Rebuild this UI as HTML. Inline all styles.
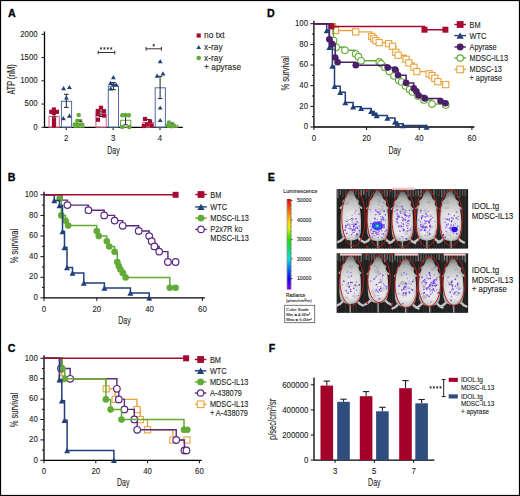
<!DOCTYPE html>
<html><head><meta charset="utf-8"><style>
html,body{margin:0;padding:0;background:#fff;}
body{width:520px;height:496px;overflow:hidden;}
svg{display:block;font-family:"Liberation Sans", sans-serif;}
</style></head><body>
<svg width="520" height="496" viewBox="0 0 520 496">
<defs>
<linearGradient id="cbar" x1="0" y1="0" x2="0" y2="1">
<stop offset="0" stop-color="#e00000"/><stop offset="0.12" stop-color="#ff6000"/><stop offset="0.25" stop-color="#ffd000"/>
<stop offset="0.32" stop-color="#e0f000"/><stop offset="0.45" stop-color="#20e000"/><stop offset="0.58" stop-color="#00e080"/>
<stop offset="0.66" stop-color="#00e0e0"/><stop offset="0.78" stop-color="#0060ff"/><stop offset="0.88" stop-color="#1000ff"/>
<stop offset="1" stop-color="#8000ff"/>
</linearGradient>
<linearGradient id="mvert" x1="0" y1="0" x2="0" y2="1">
<stop offset="0" stop-color="#909090"/><stop offset="0.2" stop-color="#c4c4c4"/><stop offset="0.45" stop-color="#e6e6e6"/><stop offset="0.85" stop-color="#f2f2f2"/><stop offset="1" stop-color="#cccccc"/>
</linearGradient>
<radialGradient id="medge" cx="0.5" cy="0.55" r="0.6">
<stop offset="0" stop-color="#000" stop-opacity="0"/><stop offset="0.7" stop-color="#000" stop-opacity="0.05"/><stop offset="1" stop-color="#000" stop-opacity="0.4"/>
</radialGradient>
<radialGradient id="mbody" cx="0.5" cy="0.62" r="0.66">
<stop offset="0" stop-color="#f6f6f6"/><stop offset="0.45" stop-color="#e4e4e4"/><stop offset="0.8" stop-color="#bdbdbd"/><stop offset="1" stop-color="#7a7a7a"/>
</radialGradient>
<filter id="soft" x="-20%" y="-20%" width="140%" height="140%"><feGaussianBlur stdDeviation="0.55"/></filter>
<radialGradient id="mhead" cx="0.5" cy="0.5" r="0.6">
<stop offset="0" stop-color="#d6d6d6"/><stop offset="1" stop-color="#8a8a8a"/>
</radialGradient>
</defs>
<rect x="0" y="0" width="520" height="496" fill="#fff"/>
<text x="0" y="0" transform="translate(8.10,16.80) scale(0.92,1)" font-size="11.6" text-anchor="start" font-weight="bold" fill="#000" stroke="#000" stroke-width="0.3">A</text>
<line x1="44.50" y1="31.50" x2="44.50" y2="127.30" stroke="#000" stroke-width="1.3" />
<line x1="41.50" y1="127.30" x2="44.50" y2="127.30" stroke="#111" stroke-width="1.0" />
<text x="0" y="0" transform="translate(37.60,129.60) scale(0.8,1)" font-size="9.8" text-anchor="end" font-weight="normal" fill="#1a1a1a" stroke="#1a1a1a" stroke-width="0.1">0</text>
<line x1="41.50" y1="104.05" x2="44.50" y2="104.05" stroke="#111" stroke-width="1.0" />
<text x="0" y="0" transform="translate(37.60,106.35) scale(0.8,1)" font-size="9.8" text-anchor="end" font-weight="normal" fill="#1a1a1a" stroke="#1a1a1a" stroke-width="0.1">500</text>
<line x1="41.50" y1="80.80" x2="44.50" y2="80.80" stroke="#111" stroke-width="1.0" />
<text x="0" y="0" transform="translate(37.60,83.10) scale(0.8,1)" font-size="9.8" text-anchor="end" font-weight="normal" fill="#1a1a1a" stroke="#1a1a1a" stroke-width="0.1">1000</text>
<line x1="41.50" y1="57.55" x2="44.50" y2="57.55" stroke="#111" stroke-width="1.0" />
<text x="0" y="0" transform="translate(37.60,59.85) scale(0.8,1)" font-size="9.8" text-anchor="end" font-weight="normal" fill="#1a1a1a" stroke="#1a1a1a" stroke-width="0.1">1500</text>
<line x1="41.50" y1="34.30" x2="44.50" y2="34.30" stroke="#111" stroke-width="1.0" />
<text x="0" y="0" transform="translate(37.60,36.60) scale(0.8,1)" font-size="9.8" text-anchor="end" font-weight="normal" fill="#1a1a1a" stroke="#1a1a1a" stroke-width="0.1">2000</text>
<line x1="44.50" y1="127.30" x2="182.80" y2="127.30" stroke="#000" stroke-width="1.3" />
<line x1="66.20" y1="127.30" x2="66.20" y2="130.10" stroke="#111" stroke-width="1.0" />
<text x="0" y="0" transform="translate(66.20,140.90) scale(0.8,1)" font-size="9.8" text-anchor="middle" font-weight="normal" fill="#1a1a1a" stroke="#1a1a1a" stroke-width="0.1">2</text>
<line x1="113.10" y1="127.30" x2="113.10" y2="130.10" stroke="#111" stroke-width="1.0" />
<text x="0" y="0" transform="translate(113.10,140.90) scale(0.8,1)" font-size="9.8" text-anchor="middle" font-weight="normal" fill="#1a1a1a" stroke="#1a1a1a" stroke-width="0.1">3</text>
<line x1="160.00" y1="127.30" x2="160.00" y2="130.10" stroke="#111" stroke-width="1.0" />
<text x="0" y="0" transform="translate(160.00,140.90) scale(0.8,1)" font-size="9.8" text-anchor="middle" font-weight="normal" fill="#1a1a1a" stroke="#1a1a1a" stroke-width="0.1">4</text>
<text x="0" y="0" transform="translate(113.50,153.80) scale(0.7,1)" font-size="10.0" text-anchor="middle" font-weight="normal" fill="#1a1a1a" stroke="#1a1a1a" stroke-width="0.1">Day</text>
<text x="0" y="0" transform="translate(14.60,79.40) rotate(-90) scale(0.695,1)" font-size="10.4" text-anchor="middle" font-weight="normal" fill="#1a1a1a" stroke="#1a1a1a" stroke-width="0.1">ATP (nM)</text>
<rect x="49.00" y="116.40" width="10.3" height="10.90" fill="none" stroke="#d9607c" stroke-width="1"/>
<rect x="61.40" y="101.30" width="10.2" height="26.00" fill="none" stroke="#4d6aa6" stroke-width="1"/>
<rect x="73.60" y="123.60" width="10.3" height="3.70" fill="none" stroke="#63aa37" stroke-width="1"/>
<rect x="95.90" y="114.30" width="10.3" height="13.00" fill="none" stroke="#d9607c" stroke-width="1"/>
<rect x="108.30" y="86.20" width="10.2" height="41.10" fill="none" stroke="#4d6aa6" stroke-width="1"/>
<rect x="120.50" y="120.30" width="10.3" height="7.00" fill="none" stroke="#63aa37" stroke-width="1"/>
<rect x="142.80" y="122.50" width="10.3" height="4.80" fill="none" stroke="#d9607c" stroke-width="1"/>
<rect x="155.20" y="87.80" width="10.2" height="39.50" fill="none" stroke="#4d6aa6" stroke-width="1"/>
<rect x="167.40" y="125.20" width="10.3" height="2.10" fill="none" stroke="#63aa37" stroke-width="1"/>
<line x1="54.10" y1="113.00" x2="54.10" y2="117.00" stroke="#222" stroke-width="1.0" />
<line x1="51.80" y1="113.00" x2="56.40" y2="113.00" stroke="#222" stroke-width="1.0" />
<line x1="51.80" y1="117.00" x2="56.40" y2="117.00" stroke="#222" stroke-width="1.0" />
<line x1="66.30" y1="94.30" x2="66.30" y2="107.40" stroke="#222" stroke-width="1.0" />
<line x1="64.00" y1="94.30" x2="68.60" y2="94.30" stroke="#222" stroke-width="1.0" />
<line x1="64.00" y1="107.40" x2="68.60" y2="107.40" stroke="#222" stroke-width="1.0" />
<line x1="80.00" y1="120.00" x2="80.00" y2="121.60" stroke="#222" stroke-width="1.0" />
<line x1="77.70" y1="120.00" x2="82.30" y2="120.00" stroke="#222" stroke-width="1.0" />
<line x1="77.70" y1="121.60" x2="82.30" y2="121.60" stroke="#222" stroke-width="1.0" />
<line x1="101.00" y1="111.00" x2="101.00" y2="116.50" stroke="#222" stroke-width="1.0" />
<line x1="98.70" y1="111.00" x2="103.30" y2="111.00" stroke="#222" stroke-width="1.0" />
<line x1="98.70" y1="116.50" x2="103.30" y2="116.50" stroke="#222" stroke-width="1.0" />
<line x1="113.40" y1="82.60" x2="113.40" y2="89.60" stroke="#222" stroke-width="1.0" />
<line x1="111.10" y1="82.60" x2="115.70" y2="82.60" stroke="#222" stroke-width="1.0" />
<line x1="111.10" y1="89.60" x2="115.70" y2="89.60" stroke="#222" stroke-width="1.0" />
<line x1="125.60" y1="115.50" x2="125.60" y2="124.80" stroke="#222" stroke-width="1.0" />
<line x1="123.30" y1="115.50" x2="127.90" y2="115.50" stroke="#222" stroke-width="1.0" />
<line x1="123.30" y1="124.80" x2="127.90" y2="124.80" stroke="#222" stroke-width="1.0" />
<line x1="148.50" y1="119.50" x2="148.50" y2="125.00" stroke="#222" stroke-width="1.0" />
<line x1="146.20" y1="119.50" x2="150.80" y2="119.50" stroke="#222" stroke-width="1.0" />
<line x1="146.20" y1="125.00" x2="150.80" y2="125.00" stroke="#222" stroke-width="1.0" />
<line x1="160.10" y1="76.30" x2="160.10" y2="98.60" stroke="#222" stroke-width="1.0" />
<line x1="157.80" y1="76.30" x2="162.40" y2="76.30" stroke="#222" stroke-width="1.0" />
<line x1="157.80" y1="98.60" x2="162.40" y2="98.60" stroke="#222" stroke-width="1.0" />
<line x1="172.00" y1="123.00" x2="172.00" y2="126.00" stroke="#222" stroke-width="1.0" />
<line x1="169.70" y1="123.00" x2="174.30" y2="123.00" stroke="#222" stroke-width="1.0" />
<line x1="169.70" y1="126.00" x2="174.30" y2="126.00" stroke="#222" stroke-width="1.0" />
<rect x="49.20" y="109.70" width="4.20" height="4.20" fill="#a50a32" stroke="none" stroke-width="1.0"/>
<rect x="54.80" y="109.70" width="4.20" height="4.20" fill="#a50a32" stroke="none" stroke-width="1.0"/>
<rect x="51.80" y="107.40" width="4.20" height="4.20" fill="#a50a32" stroke="none" stroke-width="1.0"/>
<rect x="51.90" y="110.90" width="4.20" height="4.20" fill="#a50a32" stroke="none" stroke-width="1.0"/>
<rect x="51.90" y="117.40" width="4.20" height="4.20" fill="#a50a32" stroke="none" stroke-width="1.0"/>
<rect x="51.90" y="121.10" width="4.20" height="4.20" fill="#a50a32" stroke="none" stroke-width="1.0"/>
<rect x="51.90" y="123.50" width="4.20" height="4.20" fill="#a50a32" stroke="none" stroke-width="1.0"/>
<rect x="98.90" y="105.70" width="4.20" height="4.20" fill="#a50a32" stroke="none" stroke-width="1.0"/>
<rect x="95.70" y="108.90" width="4.20" height="4.20" fill="#a50a32" stroke="none" stroke-width="1.0"/>
<rect x="95.70" y="112.10" width="4.20" height="4.20" fill="#a50a32" stroke="none" stroke-width="1.0"/>
<rect x="101.90" y="109.10" width="4.20" height="4.20" fill="#a50a32" stroke="none" stroke-width="1.0"/>
<rect x="101.90" y="113.50" width="4.20" height="4.20" fill="#a50a32" stroke="none" stroke-width="1.0"/>
<rect x="95.90" y="117.60" width="4.20" height="4.20" fill="#a50a32" stroke="none" stroke-width="1.0"/>
<rect x="142.90" y="116.90" width="4.20" height="4.20" fill="#a50a32" stroke="none" stroke-width="1.0"/>
<rect x="147.90" y="119.40" width="4.20" height="4.20" fill="#a50a32" stroke="none" stroke-width="1.0"/>
<rect x="144.90" y="122.40" width="4.20" height="4.20" fill="#a50a32" stroke="none" stroke-width="1.0"/>
<rect x="149.40" y="123.40" width="4.20" height="4.20" fill="#a50a32" stroke="none" stroke-width="1.0"/>
<rect x="141.70" y="123.90" width="4.20" height="4.20" fill="#a50a32" stroke="none" stroke-width="1.0"/>
<path d="M63.60,86.10 L66.00,90.30 L61.20,90.30 Z" fill="#213f7c"/>
<path d="M69.40,84.90 L71.80,89.10 L67.00,89.10 Z" fill="#213f7c"/>
<path d="M66.40,95.40 L68.80,99.60 L64.00,99.60 Z" fill="#213f7c"/>
<path d="M63.40,116.10 L65.80,120.30 L61.00,120.30 Z" fill="#213f7c"/>
<path d="M69.40,113.60 L71.80,117.80 L67.00,117.80 Z" fill="#213f7c"/>
<path d="M113.40,75.10 L115.80,79.30 L111.00,79.30 Z" fill="#213f7c"/>
<path d="M110.60,80.80 L113.00,85.00 L108.20,85.00 Z" fill="#213f7c"/>
<path d="M113.50,81.90 L115.90,86.10 L111.10,86.10 Z" fill="#213f7c"/>
<path d="M116.30,82.40 L118.70,86.60 L113.90,86.60 Z" fill="#213f7c"/>
<path d="M110.80,86.20 L113.20,90.40 L108.40,90.40 Z" fill="#213f7c"/>
<path d="M160.20,59.10 L162.60,63.30 L157.80,63.30 Z" fill="#213f7c"/>
<path d="M157.10,73.60 L159.50,77.80 L154.70,77.80 Z" fill="#213f7c"/>
<path d="M163.00,71.20 L165.40,75.40 L160.60,75.40 Z" fill="#213f7c"/>
<path d="M160.20,105.40 L162.60,109.60 L157.80,109.60 Z" fill="#213f7c"/>
<path d="M160.20,117.90 L162.60,122.10 L157.80,122.10 Z" fill="#213f7c"/>
<circle cx="78.70" cy="115.10" r="2.25" fill="#63aa37" stroke="none" stroke-width="1.0"/>
<circle cx="77.40" cy="120.80" r="2.25" fill="#63aa37" stroke="none" stroke-width="1.0"/>
<circle cx="74.80" cy="124.60" r="2.25" fill="#63aa37" stroke="none" stroke-width="1.0"/>
<circle cx="78.20" cy="125.00" r="2.25" fill="#63aa37" stroke="none" stroke-width="1.0"/>
<circle cx="81.80" cy="124.60" r="2.25" fill="#63aa37" stroke="none" stroke-width="1.0"/>
<circle cx="122.30" cy="115.20" r="2.25" fill="#63aa37" stroke="none" stroke-width="1.0"/>
<circle cx="125.50" cy="115.00" r="2.25" fill="#63aa37" stroke="none" stroke-width="1.0"/>
<circle cx="128.80" cy="115.20" r="2.25" fill="#63aa37" stroke="none" stroke-width="1.0"/>
<circle cx="122.20" cy="127.00" r="2.25" fill="#63aa37" stroke="none" stroke-width="1.0"/>
<circle cx="129.30" cy="127.00" r="2.25" fill="#63aa37" stroke="none" stroke-width="1.0"/>
<circle cx="169.00" cy="122.50" r="2.25" fill="#63aa37" stroke="none" stroke-width="1.0"/>
<circle cx="167.80" cy="125.50" r="2.25" fill="#63aa37" stroke="none" stroke-width="1.0"/>
<circle cx="171.50" cy="126.30" r="2.25" fill="#63aa37" stroke="none" stroke-width="1.0"/>
<circle cx="174.00" cy="125.80" r="2.25" fill="#63aa37" stroke="none" stroke-width="1.0"/>
<line x1="98.20" y1="52.50" x2="114.80" y2="52.50" stroke="#333" stroke-width="1.0" />
<line x1="98.20" y1="50.60" x2="98.20" y2="54.40" stroke="#333" stroke-width="1.0" />
<line x1="114.80" y1="50.60" x2="114.80" y2="54.40" stroke="#333" stroke-width="1.0" />
<line x1="101.00" y1="47.15" x2="101.00" y2="49.65" stroke="#222" stroke-width="0.7" />
<line x1="99.92" y1="47.77" x2="102.08" y2="49.02" stroke="#222" stroke-width="0.7" />
<line x1="99.92" y1="49.02" x2="102.08" y2="47.77" stroke="#222" stroke-width="0.7" />
<line x1="104.40" y1="47.15" x2="104.40" y2="49.65" stroke="#222" stroke-width="0.7" />
<line x1="103.32" y1="47.77" x2="105.48" y2="49.02" stroke="#222" stroke-width="0.7" />
<line x1="103.32" y1="49.02" x2="105.48" y2="47.77" stroke="#222" stroke-width="0.7" />
<line x1="107.80" y1="47.15" x2="107.80" y2="49.65" stroke="#222" stroke-width="0.7" />
<line x1="106.72" y1="47.77" x2="108.88" y2="49.02" stroke="#222" stroke-width="0.7" />
<line x1="106.72" y1="49.02" x2="108.88" y2="47.77" stroke="#222" stroke-width="0.7" />
<line x1="111.20" y1="47.15" x2="111.20" y2="49.65" stroke="#222" stroke-width="0.7" />
<line x1="110.12" y1="47.77" x2="112.28" y2="49.02" stroke="#222" stroke-width="0.7" />
<line x1="110.12" y1="49.02" x2="112.28" y2="47.77" stroke="#222" stroke-width="0.7" />
<line x1="146.10" y1="48.80" x2="161.40" y2="48.80" stroke="#333" stroke-width="1.0" />
<line x1="146.10" y1="46.90" x2="146.10" y2="50.70" stroke="#333" stroke-width="1.0" />
<line x1="161.40" y1="46.90" x2="161.40" y2="50.70" stroke="#333" stroke-width="1.0" />
<line x1="153.70" y1="43.95" x2="153.70" y2="46.45" stroke="#222" stroke-width="0.7" />
<line x1="152.62" y1="44.58" x2="154.78" y2="45.83" stroke="#222" stroke-width="0.7" />
<line x1="152.62" y1="45.83" x2="154.78" y2="44.58" stroke="#222" stroke-width="0.7" />
<rect x="196.60" y="33.40" width="4.20" height="4.20" fill="#a50a32" stroke="none" stroke-width="1.0"/>
<text x="0" y="0" transform="translate(204.10,38.20) scale(0.95,1)" font-size="8.8" text-anchor="start" font-weight="normal" fill="#1a1a1a" stroke="#1a1a1a" stroke-width="0.1">no txt</text>
<path d="M198.70,45.00 L201.00,49.00 L196.40,49.00 Z" fill="#213f7c"/>
<text x="0" y="0" transform="translate(204.10,49.70) scale(0.95,1)" font-size="8.8" text-anchor="start" font-weight="normal" fill="#1a1a1a" stroke="#1a1a1a" stroke-width="0.1">x-ray</text>
<circle cx="198.70" cy="58.00" r="2.30" fill="#63aa37" stroke="none" stroke-width="1.0"/>
<text x="0" y="0" transform="translate(204.10,60.70) scale(0.95,1)" font-size="8.8" text-anchor="start" font-weight="normal" fill="#1a1a1a" stroke="#1a1a1a" stroke-width="0.1">x-ray</text>
<text x="0" y="0" transform="translate(204.10,69.90) scale(0.95,1)" font-size="8.8" text-anchor="start" font-weight="normal" fill="#1a1a1a" stroke="#1a1a1a" stroke-width="0.1">+ apyrase</text>
<text x="0" y="0" transform="translate(7.80,180.70) scale(0.92,1)" font-size="11.6" text-anchor="start" font-weight="bold" fill="#000" stroke="#000" stroke-width="0.3">B</text>
<line x1="44.00" y1="191.70" x2="44.00" y2="297.90" stroke="#000" stroke-width="1.3" />
<line x1="40.40" y1="297.90" x2="44.00" y2="297.90" stroke="#111" stroke-width="1.0" />
<text x="0" y="0" transform="translate(37.80,300.10) scale(0.8,1)" font-size="9.8" text-anchor="end" font-weight="normal" fill="#1a1a1a" stroke="#1a1a1a" stroke-width="0.1">0</text>
<line x1="42.00" y1="287.59" x2="44.00" y2="287.59" stroke="#111" stroke-width="1.0" />
<line x1="40.40" y1="277.28" x2="44.00" y2="277.28" stroke="#111" stroke-width="1.0" />
<text x="0" y="0" transform="translate(37.80,279.48) scale(0.8,1)" font-size="9.8" text-anchor="end" font-weight="normal" fill="#1a1a1a" stroke="#1a1a1a" stroke-width="0.1">20</text>
<line x1="42.00" y1="266.97" x2="44.00" y2="266.97" stroke="#111" stroke-width="1.0" />
<line x1="40.40" y1="256.66" x2="44.00" y2="256.66" stroke="#111" stroke-width="1.0" />
<text x="0" y="0" transform="translate(37.80,258.86) scale(0.8,1)" font-size="9.8" text-anchor="end" font-weight="normal" fill="#1a1a1a" stroke="#1a1a1a" stroke-width="0.1">40</text>
<line x1="42.00" y1="246.35" x2="44.00" y2="246.35" stroke="#111" stroke-width="1.0" />
<line x1="40.40" y1="236.04" x2="44.00" y2="236.04" stroke="#111" stroke-width="1.0" />
<text x="0" y="0" transform="translate(37.80,238.24) scale(0.8,1)" font-size="9.8" text-anchor="end" font-weight="normal" fill="#1a1a1a" stroke="#1a1a1a" stroke-width="0.1">60</text>
<line x1="42.00" y1="225.73" x2="44.00" y2="225.73" stroke="#111" stroke-width="1.0" />
<line x1="40.40" y1="215.42" x2="44.00" y2="215.42" stroke="#111" stroke-width="1.0" />
<text x="0" y="0" transform="translate(37.80,217.62) scale(0.8,1)" font-size="9.8" text-anchor="end" font-weight="normal" fill="#1a1a1a" stroke="#1a1a1a" stroke-width="0.1">80</text>
<line x1="42.00" y1="205.11" x2="44.00" y2="205.11" stroke="#111" stroke-width="1.0" />
<line x1="40.40" y1="194.80" x2="44.00" y2="194.80" stroke="#111" stroke-width="1.0" />
<text x="0" y="0" transform="translate(37.80,197.00) scale(0.8,1)" font-size="9.8" text-anchor="end" font-weight="normal" fill="#1a1a1a" stroke="#1a1a1a" stroke-width="0.1">100</text>
<line x1="44.00" y1="297.90" x2="204.80" y2="297.90" stroke="#000" stroke-width="1.3" />
<line x1="44.00" y1="297.90" x2="44.00" y2="300.90" stroke="#111" stroke-width="1.0" />
<text x="0" y="0" transform="translate(44.00,311.50) scale(0.8,1)" font-size="9.8" text-anchor="middle" font-weight="normal" fill="#1a1a1a" stroke="#1a1a1a" stroke-width="0.1">0</text>
<line x1="96.80" y1="297.90" x2="96.80" y2="300.90" stroke="#111" stroke-width="1.0" />
<text x="0" y="0" transform="translate(96.80,311.50) scale(0.8,1)" font-size="9.8" text-anchor="middle" font-weight="normal" fill="#1a1a1a" stroke="#1a1a1a" stroke-width="0.1">20</text>
<line x1="149.60" y1="297.90" x2="149.60" y2="300.90" stroke="#111" stroke-width="1.0" />
<text x="0" y="0" transform="translate(149.60,311.50) scale(0.8,1)" font-size="9.8" text-anchor="middle" font-weight="normal" fill="#1a1a1a" stroke="#1a1a1a" stroke-width="0.1">40</text>
<line x1="202.40" y1="297.90" x2="202.40" y2="300.90" stroke="#111" stroke-width="1.0" />
<text x="0" y="0" transform="translate(202.40,311.50) scale(0.8,1)" font-size="9.8" text-anchor="middle" font-weight="normal" fill="#1a1a1a" stroke="#1a1a1a" stroke-width="0.1">60</text>
<text x="0" y="0" transform="translate(17.50,246.00) rotate(-90) scale(0.73,1)" font-size="10.4" text-anchor="middle" font-weight="normal" fill="#1a1a1a" stroke="#1a1a1a" stroke-width="0.1">% survival</text>
<text x="0" y="0" transform="translate(124.50,324.30) scale(0.7,1)" font-size="10.0" text-anchor="middle" font-weight="normal" fill="#1a1a1a" stroke="#1a1a1a" stroke-width="0.1">Day</text>
<path d="M44.00,194.80 H62.00 V200.10 H67.40 V205.10 H88.40 V210.20 H104.20 V215.40 H114.60 V220.60 H122.70 V225.80 H138.70 V231.00 H149.20 V236.10 H151.70 V241.20 H154.40 V246.40 H159.20 V251.60 H167.90 V262.00 H175.60 V262.00" fill="none" stroke="#5a2a82" stroke-width="1.4" stroke-linejoin="miter"/>
<circle cx="67.40" cy="205.10" r="3.30" fill="#fff" stroke="#5a2a82" stroke-width="1.2"/>
<circle cx="88.40" cy="210.20" r="3.30" fill="#fff" stroke="#5a2a82" stroke-width="1.2"/>
<circle cx="104.20" cy="215.40" r="3.30" fill="#fff" stroke="#5a2a82" stroke-width="1.2"/>
<circle cx="114.60" cy="220.60" r="3.30" fill="#fff" stroke="#5a2a82" stroke-width="1.2"/>
<circle cx="122.70" cy="225.80" r="3.30" fill="#fff" stroke="#5a2a82" stroke-width="1.2"/>
<circle cx="138.70" cy="231.00" r="3.30" fill="#fff" stroke="#5a2a82" stroke-width="1.2"/>
<circle cx="149.20" cy="236.10" r="3.30" fill="#fff" stroke="#5a2a82" stroke-width="1.2"/>
<circle cx="151.70" cy="241.20" r="3.30" fill="#fff" stroke="#5a2a82" stroke-width="1.2"/>
<circle cx="154.40" cy="246.40" r="3.30" fill="#fff" stroke="#5a2a82" stroke-width="1.2"/>
<circle cx="159.20" cy="251.60" r="3.30" fill="#fff" stroke="#5a2a82" stroke-width="1.2"/>
<circle cx="167.90" cy="262.00" r="3.30" fill="#fff" stroke="#5a2a82" stroke-width="1.2"/>
<circle cx="175.60" cy="262.00" r="3.30" fill="#fff" stroke="#5a2a82" stroke-width="1.2"/>
<path d="M44.00,194.80 H59.70 V198.50 H61.30 V215.40 H65.60 V220.80 H68.20 V225.60 H96.70 V231.00 H98.70 V236.10 H106.80 V241.30 H109.20 V246.50 H114.60 V251.80 H117.30 V262.10 H118.80 V266.00 H120.40 V269.20 H122.70 V272.90 H125.60 V277.50 H169.80 V287.80 H175.60 V287.80" fill="none" stroke="#63aa37" stroke-width="1.5" stroke-linejoin="miter"/>
<circle cx="59.70" cy="198.50" r="3.30" fill="#63aa37" stroke="none" stroke-width="1.0"/>
<circle cx="61.30" cy="215.40" r="3.30" fill="#63aa37" stroke="none" stroke-width="1.0"/>
<circle cx="65.60" cy="220.80" r="3.30" fill="#63aa37" stroke="none" stroke-width="1.0"/>
<circle cx="68.20" cy="225.60" r="3.30" fill="#63aa37" stroke="none" stroke-width="1.0"/>
<circle cx="96.70" cy="231.00" r="3.30" fill="#63aa37" stroke="none" stroke-width="1.0"/>
<circle cx="98.70" cy="236.10" r="3.30" fill="#63aa37" stroke="none" stroke-width="1.0"/>
<circle cx="106.80" cy="241.30" r="3.30" fill="#63aa37" stroke="none" stroke-width="1.0"/>
<circle cx="109.20" cy="246.50" r="3.30" fill="#63aa37" stroke="none" stroke-width="1.0"/>
<circle cx="114.60" cy="251.80" r="3.30" fill="#63aa37" stroke="none" stroke-width="1.0"/>
<circle cx="117.30" cy="262.10" r="3.30" fill="#63aa37" stroke="none" stroke-width="1.0"/>
<circle cx="118.80" cy="266.00" r="3.30" fill="#63aa37" stroke="none" stroke-width="1.0"/>
<circle cx="120.40" cy="269.20" r="3.30" fill="#63aa37" stroke="none" stroke-width="1.0"/>
<circle cx="122.70" cy="272.90" r="3.30" fill="#63aa37" stroke="none" stroke-width="1.0"/>
<circle cx="125.60" cy="277.50" r="3.30" fill="#63aa37" stroke="none" stroke-width="1.0"/>
<circle cx="169.80" cy="287.80" r="3.30" fill="#63aa37" stroke="none" stroke-width="1.0"/>
<circle cx="175.60" cy="287.80" r="3.30" fill="#63aa37" stroke="none" stroke-width="1.0"/>
<path d="M44.00,194.80 H54.30 V200.50 H59.50 V205.50 H62.50 V231.50 H64.50 V247.50 H67.00 V267.50 H72.50 V273.00 H83.80 V283.00 H104.40 V288.00 H130.40 V293.00 H149.20 V297.90" fill="none" stroke="#213f7c" stroke-width="1.5" stroke-linejoin="miter"/>
<path d="M54.30,197.80 L57.30,203.20 L51.30,203.20 Z" fill="#213f7c"/>
<path d="M59.50,202.80 L62.50,208.20 L56.50,208.20 Z" fill="#213f7c"/>
<path d="M62.50,228.80 L65.50,234.20 L59.50,234.20 Z" fill="#213f7c"/>
<path d="M64.50,244.80 L67.50,250.20 L61.50,250.20 Z" fill="#213f7c"/>
<path d="M67.00,264.80 L70.00,270.20 L64.00,270.20 Z" fill="#213f7c"/>
<path d="M72.50,270.30 L75.50,275.70 L69.50,275.70 Z" fill="#213f7c"/>
<path d="M83.80,280.30 L86.80,285.70 L80.80,285.70 Z" fill="#213f7c"/>
<path d="M104.40,285.30 L107.40,290.70 L101.40,290.70 Z" fill="#213f7c"/>
<path d="M130.40,290.30 L133.40,295.70 L127.40,295.70 Z" fill="#213f7c"/>
<path d="M149.20,295.20 L152.20,300.60 L146.20,300.60 Z" fill="#213f7c"/>
<line x1="44.00" y1="194.80" x2="175.60" y2="194.80" stroke="#a50a32" stroke-width="1.5" />
<rect x="172.60" y="191.80" width="6.00" height="6.00" fill="#a50a32" stroke="none" stroke-width="1.0"/>
<line x1="195.20" y1="194.50" x2="206.80" y2="194.50" stroke="#a50a32" stroke-width="1.4" />
<rect x="197.60" y="191.10" width="6.80" height="6.80" fill="#a50a32" stroke="none" stroke-width="1.0"/>
<text x="0" y="0" transform="translate(210.30,197.50) scale(0.84,1)" font-size="8.8" text-anchor="start" font-weight="normal" fill="#1a1a1a" stroke="#1a1a1a" stroke-width="0.1">BM</text>
<line x1="195.20" y1="206.90" x2="206.80" y2="206.90" stroke="#213f7c" stroke-width="1.4" />
<path d="M201.00,203.70 L204.60,210.10 L197.40,210.10 Z" fill="#213f7c"/>
<text x="0" y="0" transform="translate(210.30,209.90) scale(0.84,1)" font-size="8.8" text-anchor="start" font-weight="normal" fill="#1a1a1a" stroke="#1a1a1a" stroke-width="0.1">WTC</text>
<line x1="195.20" y1="218.10" x2="206.80" y2="218.10" stroke="#63aa37" stroke-width="1.4" />
<circle cx="201.00" cy="218.10" r="3.40" fill="#63aa37" stroke="none" stroke-width="1.0"/>
<text x="0" y="0" transform="translate(210.30,221.10) scale(0.84,1)" font-size="8.8" text-anchor="start" font-weight="normal" fill="#1a1a1a" stroke="#1a1a1a" stroke-width="0.1">MDSC-IL13</text>
<line x1="195.20" y1="229.40" x2="206.80" y2="229.40" stroke="#5a2a82" stroke-width="1.4" />
<circle cx="201.00" cy="229.40" r="3.20" fill="#fff" stroke="#5a2a82" stroke-width="1.2"/>
<text x="0" y="0" transform="translate(210.30,232.40) scale(0.84,1)" font-size="8.8" text-anchor="start" font-weight="normal" fill="#1a1a1a" stroke="#1a1a1a" stroke-width="0.1">P2x7R ko</text>
<text x="0" y="0" transform="translate(210.30,241.40) scale(0.84,1)" font-size="8.8" text-anchor="start" font-weight="normal" fill="#1a1a1a" stroke="#1a1a1a" stroke-width="0.1">MDSC-IL13</text>
<text x="0" y="0" transform="translate(7.80,352.00) scale(0.92,1)" font-size="11.6" text-anchor="start" font-weight="bold" fill="#000" stroke="#000" stroke-width="0.3">C</text>
<line x1="44.00" y1="355.30" x2="44.00" y2="460.30" stroke="#000" stroke-width="1.3" />
<line x1="40.40" y1="460.30" x2="44.00" y2="460.30" stroke="#111" stroke-width="1.0" />
<text x="0" y="0" transform="translate(37.80,462.50) scale(0.8,1)" font-size="9.8" text-anchor="end" font-weight="normal" fill="#1a1a1a" stroke="#1a1a1a" stroke-width="0.1">0</text>
<line x1="42.00" y1="450.10" x2="44.00" y2="450.10" stroke="#111" stroke-width="1.0" />
<line x1="40.40" y1="439.90" x2="44.00" y2="439.90" stroke="#111" stroke-width="1.0" />
<text x="0" y="0" transform="translate(37.80,442.10) scale(0.8,1)" font-size="9.8" text-anchor="end" font-weight="normal" fill="#1a1a1a" stroke="#1a1a1a" stroke-width="0.1">20</text>
<line x1="42.00" y1="429.70" x2="44.00" y2="429.70" stroke="#111" stroke-width="1.0" />
<line x1="40.40" y1="419.50" x2="44.00" y2="419.50" stroke="#111" stroke-width="1.0" />
<text x="0" y="0" transform="translate(37.80,421.70) scale(0.8,1)" font-size="9.8" text-anchor="end" font-weight="normal" fill="#1a1a1a" stroke="#1a1a1a" stroke-width="0.1">40</text>
<line x1="42.00" y1="409.30" x2="44.00" y2="409.30" stroke="#111" stroke-width="1.0" />
<line x1="40.40" y1="399.10" x2="44.00" y2="399.10" stroke="#111" stroke-width="1.0" />
<text x="0" y="0" transform="translate(37.80,401.30) scale(0.8,1)" font-size="9.8" text-anchor="end" font-weight="normal" fill="#1a1a1a" stroke="#1a1a1a" stroke-width="0.1">60</text>
<line x1="42.00" y1="388.90" x2="44.00" y2="388.90" stroke="#111" stroke-width="1.0" />
<line x1="40.40" y1="378.70" x2="44.00" y2="378.70" stroke="#111" stroke-width="1.0" />
<text x="0" y="0" transform="translate(37.80,380.90) scale(0.8,1)" font-size="9.8" text-anchor="end" font-weight="normal" fill="#1a1a1a" stroke="#1a1a1a" stroke-width="0.1">80</text>
<line x1="42.00" y1="368.50" x2="44.00" y2="368.50" stroke="#111" stroke-width="1.0" />
<line x1="40.40" y1="358.30" x2="44.00" y2="358.30" stroke="#111" stroke-width="1.0" />
<text x="0" y="0" transform="translate(37.80,360.50) scale(0.8,1)" font-size="9.8" text-anchor="end" font-weight="normal" fill="#1a1a1a" stroke="#1a1a1a" stroke-width="0.1">100</text>
<line x1="44.00" y1="460.30" x2="201.70" y2="460.30" stroke="#000" stroke-width="1.3" />
<line x1="44.00" y1="460.30" x2="44.00" y2="463.30" stroke="#111" stroke-width="1.0" />
<text x="0" y="0" transform="translate(44.00,473.90) scale(0.8,1)" font-size="9.8" text-anchor="middle" font-weight="normal" fill="#1a1a1a" stroke="#1a1a1a" stroke-width="0.1">0</text>
<line x1="95.80" y1="460.30" x2="95.80" y2="463.30" stroke="#111" stroke-width="1.0" />
<text x="0" y="0" transform="translate(95.80,473.90) scale(0.8,1)" font-size="9.8" text-anchor="middle" font-weight="normal" fill="#1a1a1a" stroke="#1a1a1a" stroke-width="0.1">20</text>
<line x1="147.60" y1="460.30" x2="147.60" y2="463.30" stroke="#111" stroke-width="1.0" />
<text x="0" y="0" transform="translate(147.60,473.90) scale(0.8,1)" font-size="9.8" text-anchor="middle" font-weight="normal" fill="#1a1a1a" stroke="#1a1a1a" stroke-width="0.1">40</text>
<line x1="199.40" y1="460.30" x2="199.40" y2="463.30" stroke="#111" stroke-width="1.0" />
<text x="0" y="0" transform="translate(199.40,473.90) scale(0.8,1)" font-size="9.8" text-anchor="middle" font-weight="normal" fill="#1a1a1a" stroke="#1a1a1a" stroke-width="0.1">60</text>
<text x="0" y="0" transform="translate(17.50,410.00) rotate(-90) scale(0.73,1)" font-size="10.4" text-anchor="middle" font-weight="normal" fill="#1a1a1a" stroke="#1a1a1a" stroke-width="0.1">% survival</text>
<text x="0" y="0" transform="translate(123.20,486.40) scale(0.7,1)" font-size="10.0" text-anchor="middle" font-weight="normal" fill="#1a1a1a" stroke="#1a1a1a" stroke-width="0.1">Day</text>
<path d="M44.00,358.30 H61.80 V378.80 H106.20 V388.80 H115.20 V399.40 H137.00 V409.60 H140.30 V419.60 H147.50 V429.80 H172.90 V440.00 H186.90 V440.00" fill="none" stroke="#e9a43e" stroke-width="1.4" stroke-linejoin="miter"/>
<rect x="58.70" y="375.70" width="6.20" height="6.20" fill="#fff" stroke="#e9a43e" stroke-width="1.1"/>
<rect x="103.10" y="385.70" width="6.20" height="6.20" fill="#fff" stroke="#e9a43e" stroke-width="1.1"/>
<rect x="112.10" y="396.30" width="6.20" height="6.20" fill="#fff" stroke="#e9a43e" stroke-width="1.1"/>
<rect x="133.90" y="406.50" width="6.20" height="6.20" fill="#fff" stroke="#e9a43e" stroke-width="1.1"/>
<rect x="137.20" y="416.50" width="6.20" height="6.20" fill="#fff" stroke="#e9a43e" stroke-width="1.1"/>
<rect x="144.40" y="426.70" width="6.20" height="6.20" fill="#fff" stroke="#e9a43e" stroke-width="1.1"/>
<rect x="169.80" y="436.90" width="6.20" height="6.20" fill="#fff" stroke="#e9a43e" stroke-width="1.1"/>
<rect x="183.80" y="436.90" width="6.20" height="6.20" fill="#fff" stroke="#e9a43e" stroke-width="1.1"/>
<path d="M44.00,358.30 H61.00 V368.50 H70.20 V378.80 H116.90 V388.80 H118.80 V399.40 H124.40 V409.40 H134.30 V419.40 H137.20 V429.80 H176.20 V440.00 H184.40 V450.40 H186.50 V450.40" fill="none" stroke="#5a2a82" stroke-width="1.4" stroke-linejoin="miter"/>
<circle cx="61.00" cy="368.50" r="3.30" fill="#fff" stroke="#5a2a82" stroke-width="1.2"/>
<circle cx="70.20" cy="378.80" r="3.30" fill="#fff" stroke="#5a2a82" stroke-width="1.2"/>
<circle cx="116.90" cy="388.80" r="3.30" fill="#fff" stroke="#5a2a82" stroke-width="1.2"/>
<circle cx="118.80" cy="399.40" r="3.30" fill="#fff" stroke="#5a2a82" stroke-width="1.2"/>
<circle cx="124.40" cy="409.40" r="3.30" fill="#fff" stroke="#5a2a82" stroke-width="1.2"/>
<circle cx="134.30" cy="419.40" r="3.30" fill="#fff" stroke="#5a2a82" stroke-width="1.2"/>
<circle cx="137.20" cy="429.80" r="3.30" fill="#fff" stroke="#5a2a82" stroke-width="1.2"/>
<circle cx="176.20" cy="440.00" r="3.30" fill="#fff" stroke="#5a2a82" stroke-width="1.2"/>
<circle cx="184.40" cy="450.40" r="3.30" fill="#fff" stroke="#5a2a82" stroke-width="1.2"/>
<circle cx="186.50" cy="450.40" r="3.30" fill="#fff" stroke="#5a2a82" stroke-width="1.2"/>
<path d="M44.00,358.30 H62.20 V368.50 H64.80 V378.80 H105.90 V399.40 H110.60 V409.60 H121.50 V419.60 H184.00 V429.80 H187.30 V429.80" fill="none" stroke="#63aa37" stroke-width="1.5" stroke-linejoin="miter"/>
<circle cx="62.20" cy="368.50" r="3.30" fill="#63aa37" stroke="none" stroke-width="1.0"/>
<circle cx="64.80" cy="378.80" r="3.30" fill="#63aa37" stroke="none" stroke-width="1.0"/>
<circle cx="105.90" cy="399.40" r="3.30" fill="#63aa37" stroke="none" stroke-width="1.0"/>
<circle cx="110.60" cy="409.60" r="3.30" fill="#63aa37" stroke="none" stroke-width="1.0"/>
<circle cx="121.50" cy="419.60" r="3.30" fill="#63aa37" stroke="none" stroke-width="1.0"/>
<circle cx="184.00" cy="429.80" r="3.30" fill="#63aa37" stroke="none" stroke-width="1.0"/>
<circle cx="187.30" cy="429.80" r="3.30" fill="#63aa37" stroke="none" stroke-width="1.0"/>
<path d="M44.00,358.30 H59.40 V379.80 H61.80 V400.80 H64.50 V420.30 H67.10 V450.60 H113.90 V460.30" fill="none" stroke="#213f7c" stroke-width="1.5" stroke-linejoin="miter"/>
<path d="M59.40,377.10 L62.40,382.50 L56.40,382.50 Z" fill="#213f7c"/>
<path d="M61.80,398.10 L64.80,403.50 L58.80,403.50 Z" fill="#213f7c"/>
<path d="M64.50,417.60 L67.50,423.00 L61.50,423.00 Z" fill="#213f7c"/>
<path d="M67.10,447.90 L70.10,453.30 L64.10,453.30 Z" fill="#213f7c"/>
<path d="M113.90,457.60 L116.90,463.00 L110.90,463.00 Z" fill="#213f7c"/>
<line x1="44.00" y1="358.30" x2="186.10" y2="358.30" stroke="#a50a32" stroke-width="1.5" />
<rect x="183.10" y="355.30" width="6.00" height="6.00" fill="#a50a32" stroke="none" stroke-width="1.0"/>
<line x1="194.80" y1="359.50" x2="206.40" y2="359.50" stroke="#a50a32" stroke-width="1.4" />
<rect x="197.20" y="356.10" width="6.80" height="6.80" fill="#a50a32" stroke="none" stroke-width="1.0"/>
<text x="0" y="0" transform="translate(209.90,362.50) scale(0.84,1)" font-size="8.8" text-anchor="start" font-weight="normal" fill="#1a1a1a" stroke="#1a1a1a" stroke-width="0.1">BM</text>
<line x1="194.80" y1="370.80" x2="206.40" y2="370.80" stroke="#213f7c" stroke-width="1.4" />
<path d="M200.60,367.60 L204.20,374.00 L197.00,374.00 Z" fill="#213f7c"/>
<text x="0" y="0" transform="translate(209.90,373.80) scale(0.84,1)" font-size="8.8" text-anchor="start" font-weight="normal" fill="#1a1a1a" stroke="#1a1a1a" stroke-width="0.1">WTC</text>
<line x1="194.80" y1="381.90" x2="206.40" y2="381.90" stroke="#63aa37" stroke-width="1.4" />
<circle cx="200.60" cy="381.90" r="3.40" fill="#63aa37" stroke="none" stroke-width="1.0"/>
<text x="0" y="0" transform="translate(209.90,384.90) scale(0.84,1)" font-size="8.8" text-anchor="start" font-weight="normal" fill="#1a1a1a" stroke="#1a1a1a" stroke-width="0.1">MDSC-IL13</text>
<line x1="194.80" y1="393.00" x2="206.40" y2="393.00" stroke="#5a2a82" stroke-width="1.4" />
<circle cx="200.60" cy="393.00" r="3.20" fill="#fff" stroke="#5a2a82" stroke-width="1.2"/>
<text x="0" y="0" transform="translate(209.90,396.00) scale(0.84,1)" font-size="8.8" text-anchor="start" font-weight="normal" fill="#1a1a1a" stroke="#1a1a1a" stroke-width="0.1">A-438079</text>
<line x1="194.80" y1="404.30" x2="206.40" y2="404.30" stroke="#e9a43e" stroke-width="1.4" />
<rect x="197.30" y="401.00" width="6.60" height="6.60" fill="#fff" stroke="#e9a43e" stroke-width="1.1"/>
<text x="0" y="0" transform="translate(209.90,407.30) scale(0.84,1)" font-size="8.8" text-anchor="start" font-weight="normal" fill="#1a1a1a" stroke="#1a1a1a" stroke-width="0.1">MDSC-IL13</text>
<text x="0" y="0" transform="translate(209.90,416.30) scale(0.84,1)" font-size="8.8" text-anchor="start" font-weight="normal" fill="#1a1a1a" stroke="#1a1a1a" stroke-width="0.1">+ A-438079</text>
<text x="0" y="0" transform="translate(267.10,16.50) scale(0.92,1)" font-size="11.6" text-anchor="start" font-weight="bold" fill="#000" stroke="#000" stroke-width="0.3">D</text>
<line x1="313.90" y1="20.70" x2="313.90" y2="127.00" stroke="#000" stroke-width="1.3" />
<line x1="310.30" y1="127.00" x2="313.90" y2="127.00" stroke="#111" stroke-width="1.0" />
<text x="0" y="0" transform="translate(308.00,129.20) scale(0.8,1)" font-size="9.8" text-anchor="end" font-weight="normal" fill="#1a1a1a" stroke="#1a1a1a" stroke-width="0.1">0</text>
<line x1="311.90" y1="116.67" x2="313.90" y2="116.67" stroke="#111" stroke-width="1.0" />
<line x1="310.30" y1="106.34" x2="313.90" y2="106.34" stroke="#111" stroke-width="1.0" />
<text x="0" y="0" transform="translate(308.00,108.54) scale(0.8,1)" font-size="9.8" text-anchor="end" font-weight="normal" fill="#1a1a1a" stroke="#1a1a1a" stroke-width="0.1">20</text>
<line x1="311.90" y1="96.01" x2="313.90" y2="96.01" stroke="#111" stroke-width="1.0" />
<line x1="310.30" y1="85.68" x2="313.90" y2="85.68" stroke="#111" stroke-width="1.0" />
<text x="0" y="0" transform="translate(308.00,87.88) scale(0.8,1)" font-size="9.8" text-anchor="end" font-weight="normal" fill="#1a1a1a" stroke="#1a1a1a" stroke-width="0.1">40</text>
<line x1="311.90" y1="75.35" x2="313.90" y2="75.35" stroke="#111" stroke-width="1.0" />
<line x1="310.30" y1="65.02" x2="313.90" y2="65.02" stroke="#111" stroke-width="1.0" />
<text x="0" y="0" transform="translate(308.00,67.22) scale(0.8,1)" font-size="9.8" text-anchor="end" font-weight="normal" fill="#1a1a1a" stroke="#1a1a1a" stroke-width="0.1">60</text>
<line x1="311.90" y1="54.69" x2="313.90" y2="54.69" stroke="#111" stroke-width="1.0" />
<line x1="310.30" y1="44.36" x2="313.90" y2="44.36" stroke="#111" stroke-width="1.0" />
<text x="0" y="0" transform="translate(308.00,46.56) scale(0.8,1)" font-size="9.8" text-anchor="end" font-weight="normal" fill="#1a1a1a" stroke="#1a1a1a" stroke-width="0.1">80</text>
<line x1="311.90" y1="34.03" x2="313.90" y2="34.03" stroke="#111" stroke-width="1.0" />
<line x1="310.30" y1="23.70" x2="313.90" y2="23.70" stroke="#111" stroke-width="1.0" />
<text x="0" y="0" transform="translate(308.00,25.90) scale(0.8,1)" font-size="9.8" text-anchor="end" font-weight="normal" fill="#1a1a1a" stroke="#1a1a1a" stroke-width="0.1">100</text>
<line x1="313.90" y1="127.00" x2="474.40" y2="127.00" stroke="#000" stroke-width="1.3" />
<line x1="313.90" y1="127.00" x2="313.90" y2="130.00" stroke="#111" stroke-width="1.0" />
<text x="0" y="0" transform="translate(313.90,140.60) scale(0.8,1)" font-size="9.8" text-anchor="middle" font-weight="normal" fill="#1a1a1a" stroke="#1a1a1a" stroke-width="0.1">0</text>
<line x1="366.56" y1="127.00" x2="366.56" y2="130.00" stroke="#111" stroke-width="1.0" />
<text x="0" y="0" transform="translate(366.56,140.60) scale(0.8,1)" font-size="9.8" text-anchor="middle" font-weight="normal" fill="#1a1a1a" stroke="#1a1a1a" stroke-width="0.1">20</text>
<line x1="419.22" y1="127.00" x2="419.22" y2="130.00" stroke="#111" stroke-width="1.0" />
<text x="0" y="0" transform="translate(419.22,140.60) scale(0.8,1)" font-size="9.8" text-anchor="middle" font-weight="normal" fill="#1a1a1a" stroke="#1a1a1a" stroke-width="0.1">40</text>
<line x1="471.88" y1="127.00" x2="471.88" y2="130.00" stroke="#111" stroke-width="1.0" />
<text x="0" y="0" transform="translate(471.88,140.60) scale(0.8,1)" font-size="9.8" text-anchor="middle" font-weight="normal" fill="#1a1a1a" stroke="#1a1a1a" stroke-width="0.1">60</text>
<text x="0" y="0" transform="translate(288.60,73.30) rotate(-90) scale(0.73,1)" font-size="10.4" text-anchor="middle" font-weight="normal" fill="#1a1a1a" stroke="#1a1a1a" stroke-width="0.1">% survival</text>
<text x="0" y="0" transform="translate(394.60,153.50) scale(0.7,1)" font-size="10.0" text-anchor="middle" font-weight="normal" fill="#1a1a1a" stroke="#1a1a1a" stroke-width="0.1">Day</text>
<path d="M313.90,23.70 H335.50 V30.50 H355.70 V31.90 H371.80 V36.50 H373.80 V38.60 H375.90 V40.60 H379.20 V42.60 H388.60 V43.60 H392.60 V46.30 H395.80 V52.30 H398.20 V55.20 H406.00 V59.30 H408.90 V62.90 H414.00 V67.30 H416.80 V71.60 H429.10 V73.80 H432.00 V75.60 H434.80 V78.30 H437.80 V81.70 H445.70 V84.60" fill="none" stroke="#e9a43e" stroke-width="1.4" stroke-linejoin="miter"/>
<rect x="332.40" y="27.40" width="6.20" height="6.20" fill="#fff" stroke="#e9a43e" stroke-width="1.1"/>
<rect x="352.60" y="28.80" width="6.20" height="6.20" fill="#fff" stroke="#e9a43e" stroke-width="1.1"/>
<rect x="368.70" y="33.40" width="6.20" height="6.20" fill="#fff" stroke="#e9a43e" stroke-width="1.1"/>
<rect x="370.70" y="35.50" width="6.20" height="6.20" fill="#fff" stroke="#e9a43e" stroke-width="1.1"/>
<rect x="372.80" y="37.50" width="6.20" height="6.20" fill="#fff" stroke="#e9a43e" stroke-width="1.1"/>
<rect x="376.10" y="39.50" width="6.20" height="6.20" fill="#fff" stroke="#e9a43e" stroke-width="1.1"/>
<rect x="385.50" y="40.50" width="6.20" height="6.20" fill="#fff" stroke="#e9a43e" stroke-width="1.1"/>
<rect x="389.50" y="43.20" width="6.20" height="6.20" fill="#fff" stroke="#e9a43e" stroke-width="1.1"/>
<rect x="392.70" y="49.20" width="6.20" height="6.20" fill="#fff" stroke="#e9a43e" stroke-width="1.1"/>
<rect x="395.10" y="52.10" width="6.20" height="6.20" fill="#fff" stroke="#e9a43e" stroke-width="1.1"/>
<rect x="402.90" y="56.20" width="6.20" height="6.20" fill="#fff" stroke="#e9a43e" stroke-width="1.1"/>
<rect x="405.80" y="59.80" width="6.20" height="6.20" fill="#fff" stroke="#e9a43e" stroke-width="1.1"/>
<rect x="410.90" y="64.20" width="6.20" height="6.20" fill="#fff" stroke="#e9a43e" stroke-width="1.1"/>
<rect x="413.70" y="68.50" width="6.20" height="6.20" fill="#fff" stroke="#e9a43e" stroke-width="1.1"/>
<rect x="426.00" y="70.70" width="6.20" height="6.20" fill="#fff" stroke="#e9a43e" stroke-width="1.1"/>
<rect x="428.90" y="72.50" width="6.20" height="6.20" fill="#fff" stroke="#e9a43e" stroke-width="1.1"/>
<rect x="431.70" y="75.20" width="6.20" height="6.20" fill="#fff" stroke="#e9a43e" stroke-width="1.1"/>
<rect x="434.70" y="78.60" width="6.20" height="6.20" fill="#fff" stroke="#e9a43e" stroke-width="1.1"/>
<rect x="442.60" y="81.50" width="6.20" height="6.20" fill="#fff" stroke="#e9a43e" stroke-width="1.1"/>
<path d="M313.90,23.70 H333.50 V40.60 H336.20 V47.30 H344.90 V50.30 H355.70 V54.00 H358.40 V56.70 H361.00 V60.80 H379.30 V61.90 H381.00 V63.60 H385.00 V67.50 H389.40 V71.60 H394.00 V76.00 H398.80 V80.30 H401.70 V82.00 H405.50 V86.00 H409.60 V89.60 H412.50 V92.00 H418.00 V96.00 H424.00 V100.00 H432.00 V104.10 H445.70 V105.00" fill="none" stroke="#63aa37" stroke-width="1.4" stroke-linejoin="miter"/>
<circle cx="333.50" cy="40.60" r="3.30" fill="#fff" stroke="#63aa37" stroke-width="1.1"/>
<circle cx="336.20" cy="47.30" r="3.30" fill="#fff" stroke="#63aa37" stroke-width="1.1"/>
<circle cx="344.90" cy="50.30" r="3.30" fill="#fff" stroke="#63aa37" stroke-width="1.1"/>
<circle cx="355.70" cy="54.00" r="3.30" fill="#fff" stroke="#63aa37" stroke-width="1.1"/>
<circle cx="358.40" cy="56.70" r="3.30" fill="#fff" stroke="#63aa37" stroke-width="1.1"/>
<circle cx="361.00" cy="60.80" r="3.30" fill="#fff" stroke="#63aa37" stroke-width="1.1"/>
<circle cx="379.30" cy="61.90" r="3.30" fill="#fff" stroke="#63aa37" stroke-width="1.1"/>
<circle cx="381.00" cy="63.60" r="3.30" fill="#fff" stroke="#63aa37" stroke-width="1.1"/>
<circle cx="385.00" cy="67.50" r="3.30" fill="#fff" stroke="#63aa37" stroke-width="1.1"/>
<circle cx="389.40" cy="71.60" r="3.30" fill="#fff" stroke="#63aa37" stroke-width="1.1"/>
<circle cx="394.00" cy="76.00" r="3.30" fill="#fff" stroke="#63aa37" stroke-width="1.1"/>
<circle cx="398.80" cy="80.30" r="3.30" fill="#fff" stroke="#63aa37" stroke-width="1.1"/>
<circle cx="401.70" cy="82.00" r="3.30" fill="#fff" stroke="#63aa37" stroke-width="1.1"/>
<circle cx="405.50" cy="86.00" r="3.30" fill="#fff" stroke="#63aa37" stroke-width="1.1"/>
<circle cx="409.60" cy="89.60" r="3.30" fill="#fff" stroke="#63aa37" stroke-width="1.1"/>
<circle cx="412.50" cy="92.00" r="3.30" fill="#fff" stroke="#63aa37" stroke-width="1.1"/>
<circle cx="418.00" cy="96.00" r="3.30" fill="#fff" stroke="#63aa37" stroke-width="1.1"/>
<circle cx="424.00" cy="100.00" r="3.30" fill="#fff" stroke="#63aa37" stroke-width="1.1"/>
<circle cx="432.00" cy="104.10" r="3.30" fill="#fff" stroke="#63aa37" stroke-width="1.1"/>
<circle cx="445.70" cy="105.00" r="3.30" fill="#fff" stroke="#63aa37" stroke-width="1.1"/>
<path d="M313.90,23.70 H326.70 V30.50 H329.40 V47.30 H332.40 V66.00 H334.50 V86.20 H340.20 V92.20 H345.30 V102.60 H353.10 V106.70 H361.10 V108.40 H371.10 V111.40 H374.00 V113.30 H376.70 V115.50 H387.40 V118.10 H395.00 V122.00 H397.40 V123.70 H403.10 V125.60 H426.60 V127.00" fill="none" stroke="#213f7c" stroke-width="1.5" stroke-linejoin="miter"/>
<path d="M326.70,27.80 L329.70,33.20 L323.70,33.20 Z" fill="#213f7c"/>
<path d="M329.40,44.60 L332.40,50.00 L326.40,50.00 Z" fill="#213f7c"/>
<path d="M332.40,63.30 L335.40,68.70 L329.40,68.70 Z" fill="#213f7c"/>
<path d="M334.50,83.50 L337.50,88.90 L331.50,88.90 Z" fill="#213f7c"/>
<path d="M340.20,89.50 L343.20,94.90 L337.20,94.90 Z" fill="#213f7c"/>
<path d="M345.30,99.90 L348.30,105.30 L342.30,105.30 Z" fill="#213f7c"/>
<path d="M353.10,104.00 L356.10,109.40 L350.10,109.40 Z" fill="#213f7c"/>
<path d="M361.10,105.70 L364.10,111.10 L358.10,111.10 Z" fill="#213f7c"/>
<path d="M371.10,108.70 L374.10,114.10 L368.10,114.10 Z" fill="#213f7c"/>
<path d="M374.00,110.60 L377.00,116.00 L371.00,116.00 Z" fill="#213f7c"/>
<path d="M376.70,112.80 L379.70,118.20 L373.70,118.20 Z" fill="#213f7c"/>
<path d="M387.40,115.40 L390.40,120.80 L384.40,120.80 Z" fill="#213f7c"/>
<path d="M395.00,119.30 L398.00,124.70 L392.00,124.70 Z" fill="#213f7c"/>
<path d="M397.40,121.00 L400.40,126.40 L394.40,126.40 Z" fill="#213f7c"/>
<path d="M403.10,122.90 L406.10,128.30 L400.10,128.30 Z" fill="#213f7c"/>
<path d="M426.60,124.30 L429.60,129.70 L423.60,129.70 Z" fill="#213f7c"/>
<path d="M313.90,23.70 H331.40 V26.40 H424.50 V29.70 H445.40 V29.70" fill="none" stroke="#a50a32" stroke-width="1.5" stroke-linejoin="miter"/>
<rect x="328.40" y="23.40" width="6.00" height="6.00" fill="#a50a32" stroke="none" stroke-width="1.0"/>
<rect x="421.50" y="26.70" width="6.00" height="6.00" fill="#a50a32" stroke="none" stroke-width="1.0"/>
<rect x="442.40" y="26.70" width="6.00" height="6.00" fill="#a50a32" stroke="none" stroke-width="1.0"/>
<path d="M313.90,23.70 H329.30 V39.20 H331.90 V43.90 H335.20 V57.50 H337.60 V62.30 H355.80 V65.20 H387.70 V67.60 H395.10 V69.60 H398.10 V75.20 H406.10 V82.90 H413.80 V88.40 H416.30 V91.30 H418.60 V95.50 H424.80 V98.40 H440.50 V101.00 H445.50 V103.30" fill="none" stroke="#4b1f66" stroke-width="1.5" stroke-linejoin="miter"/>
<circle cx="329.30" cy="39.20" r="3.30" fill="#4b1f66" stroke="none" stroke-width="1.0"/>
<circle cx="331.90" cy="43.90" r="3.30" fill="#4b1f66" stroke="none" stroke-width="1.0"/>
<circle cx="335.20" cy="57.50" r="3.30" fill="#4b1f66" stroke="none" stroke-width="1.0"/>
<circle cx="337.60" cy="62.30" r="3.30" fill="#4b1f66" stroke="none" stroke-width="1.0"/>
<circle cx="355.80" cy="65.20" r="3.30" fill="#4b1f66" stroke="none" stroke-width="1.0"/>
<circle cx="387.70" cy="67.60" r="3.30" fill="#4b1f66" stroke="none" stroke-width="1.0"/>
<circle cx="395.10" cy="69.60" r="3.30" fill="#4b1f66" stroke="none" stroke-width="1.0"/>
<circle cx="398.10" cy="75.20" r="3.30" fill="#4b1f66" stroke="none" stroke-width="1.0"/>
<circle cx="406.10" cy="82.90" r="3.30" fill="#4b1f66" stroke="none" stroke-width="1.0"/>
<circle cx="413.80" cy="88.40" r="3.30" fill="#4b1f66" stroke="none" stroke-width="1.0"/>
<circle cx="416.30" cy="91.30" r="3.30" fill="#4b1f66" stroke="none" stroke-width="1.0"/>
<circle cx="418.60" cy="95.50" r="3.30" fill="#4b1f66" stroke="none" stroke-width="1.0"/>
<circle cx="424.80" cy="98.40" r="3.30" fill="#4b1f66" stroke="none" stroke-width="1.0"/>
<circle cx="440.50" cy="101.00" r="3.30" fill="#4b1f66" stroke="none" stroke-width="1.0"/>
<circle cx="445.50" cy="103.30" r="3.30" fill="#4b1f66" stroke="none" stroke-width="1.0"/>
<line x1="454.40" y1="24.50" x2="466.00" y2="24.50" stroke="#a50a32" stroke-width="1.4" />
<rect x="456.80" y="21.10" width="6.80" height="6.80" fill="#a50a32" stroke="none" stroke-width="1.0"/>
<text x="0" y="0" transform="translate(469.50,27.50) scale(0.84,1)" font-size="8.8" text-anchor="start" font-weight="normal" fill="#1a1a1a" stroke="#1a1a1a" stroke-width="0.1">BM</text>
<line x1="454.40" y1="35.60" x2="466.00" y2="35.60" stroke="#213f7c" stroke-width="1.4" />
<path d="M460.20,32.40 L463.80,38.80 L456.60,38.80 Z" fill="#213f7c"/>
<text x="0" y="0" transform="translate(469.50,38.60) scale(0.84,1)" font-size="8.8" text-anchor="start" font-weight="normal" fill="#1a1a1a" stroke="#1a1a1a" stroke-width="0.1">WTC</text>
<line x1="454.40" y1="47.00" x2="466.00" y2="47.00" stroke="#4b1f66" stroke-width="1.4" />
<circle cx="460.20" cy="47.00" r="3.40" fill="#4b1f66" stroke="none" stroke-width="1.0"/>
<text x="0" y="0" transform="translate(469.50,50.00) scale(0.84,1)" font-size="8.8" text-anchor="start" font-weight="normal" fill="#1a1a1a" stroke="#1a1a1a" stroke-width="0.1">Apyrase</text>
<line x1="454.40" y1="58.00" x2="466.00" y2="58.00" stroke="#63aa37" stroke-width="1.4" />
<circle cx="460.20" cy="58.00" r="3.20" fill="#fff" stroke="#63aa37" stroke-width="1.2"/>
<text x="0" y="0" transform="translate(469.50,61.00) scale(0.84,1)" font-size="8.8" text-anchor="start" font-weight="normal" fill="#1a1a1a" stroke="#1a1a1a" stroke-width="0.1">MDSC-IL13</text>
<line x1="454.40" y1="69.40" x2="466.00" y2="69.40" stroke="#e9a43e" stroke-width="1.4" />
<rect x="456.90" y="66.10" width="6.60" height="6.60" fill="#fff" stroke="#e9a43e" stroke-width="1.1"/>
<text x="0" y="0" transform="translate(469.50,72.40) scale(0.84,1)" font-size="8.8" text-anchor="start" font-weight="normal" fill="#1a1a1a" stroke="#1a1a1a" stroke-width="0.1">MDSC-13</text>
<text x="0" y="0" transform="translate(469.50,81.40) scale(0.84,1)" font-size="8.8" text-anchor="start" font-weight="normal" fill="#1a1a1a" stroke="#1a1a1a" stroke-width="0.1">+ apyrase</text>
<text x="0" y="0" transform="translate(267.80,180.50) scale(0.92,1)" font-size="11.6" text-anchor="start" font-weight="bold" fill="#000" stroke="#000" stroke-width="0.3">E</text>
<text x="0" y="0" transform="translate(300.30,192.80)" font-size="5.3" text-anchor="middle" font-weight="normal" fill="#1a1a1a" stroke="#1a1a1a" stroke-width="0.1">Luminescence</text>
<rect x="287.2" y="199" width="3.6" height="90.5" fill="url(#cbar)"/>
<line x1="287.00" y1="199.00" x2="287.00" y2="289.50" stroke="#555" stroke-width="0.5" />
<line x1="291.00" y1="199.00" x2="291.00" y2="289.50" stroke="#333" stroke-width="0.5" />
<line x1="290.80" y1="200.50" x2="292.60" y2="200.50" stroke="#222" stroke-width="0.7" />
<text x="0" y="0" transform="translate(296.90,202.40)" font-size="5.2" text-anchor="start" font-weight="normal" fill="#1a1a1a" stroke="#1a1a1a" stroke-width="0.1">50000</text>
<line x1="290.80" y1="220.00" x2="292.60" y2="220.00" stroke="#222" stroke-width="0.7" />
<text x="0" y="0" transform="translate(296.90,221.90)" font-size="5.2" text-anchor="start" font-weight="normal" fill="#1a1a1a" stroke="#1a1a1a" stroke-width="0.1">40000</text>
<line x1="290.80" y1="239.50" x2="292.60" y2="239.50" stroke="#222" stroke-width="0.7" />
<text x="0" y="0" transform="translate(296.90,241.40)" font-size="5.2" text-anchor="start" font-weight="normal" fill="#1a1a1a" stroke="#1a1a1a" stroke-width="0.1">30000</text>
<line x1="290.80" y1="259.00" x2="292.60" y2="259.00" stroke="#222" stroke-width="0.7" />
<text x="0" y="0" transform="translate(296.90,260.90)" font-size="5.2" text-anchor="start" font-weight="normal" fill="#1a1a1a" stroke="#1a1a1a" stroke-width="0.1">20000</text>
<line x1="290.80" y1="278.50" x2="292.60" y2="278.50" stroke="#222" stroke-width="0.7" />
<text x="0" y="0" transform="translate(296.90,280.40)" font-size="5.2" text-anchor="start" font-weight="normal" fill="#1a1a1a" stroke="#1a1a1a" stroke-width="0.1">10000</text>
<line x1="290.80" y1="204.90" x2="291.80" y2="204.90" stroke="#444" stroke-width="0.5" />
<line x1="290.80" y1="209.30" x2="291.80" y2="209.30" stroke="#444" stroke-width="0.5" />
<line x1="290.80" y1="213.70" x2="291.80" y2="213.70" stroke="#444" stroke-width="0.5" />
<line x1="290.80" y1="218.10" x2="291.80" y2="218.10" stroke="#444" stroke-width="0.5" />
<line x1="290.80" y1="222.50" x2="291.80" y2="222.50" stroke="#444" stroke-width="0.5" />
<line x1="290.80" y1="226.90" x2="291.80" y2="226.90" stroke="#444" stroke-width="0.5" />
<line x1="290.80" y1="231.30" x2="291.80" y2="231.30" stroke="#444" stroke-width="0.5" />
<line x1="290.80" y1="235.70" x2="291.80" y2="235.70" stroke="#444" stroke-width="0.5" />
<line x1="290.80" y1="240.10" x2="291.80" y2="240.10" stroke="#444" stroke-width="0.5" />
<line x1="290.80" y1="244.50" x2="291.80" y2="244.50" stroke="#444" stroke-width="0.5" />
<line x1="290.80" y1="248.90" x2="291.80" y2="248.90" stroke="#444" stroke-width="0.5" />
<line x1="290.80" y1="253.30" x2="291.80" y2="253.30" stroke="#444" stroke-width="0.5" />
<line x1="290.80" y1="257.70" x2="291.80" y2="257.70" stroke="#444" stroke-width="0.5" />
<line x1="290.80" y1="262.10" x2="291.80" y2="262.10" stroke="#444" stroke-width="0.5" />
<line x1="290.80" y1="266.50" x2="291.80" y2="266.50" stroke="#444" stroke-width="0.5" />
<line x1="290.80" y1="270.90" x2="291.80" y2="270.90" stroke="#444" stroke-width="0.5" />
<line x1="290.80" y1="275.30" x2="291.80" y2="275.30" stroke="#444" stroke-width="0.5" />
<line x1="290.80" y1="279.70" x2="291.80" y2="279.70" stroke="#444" stroke-width="0.5" />
<line x1="290.80" y1="284.10" x2="291.80" y2="284.10" stroke="#444" stroke-width="0.5" />
<text x="0" y="0" transform="translate(286.00,297.00)" font-size="4.6" text-anchor="start" font-weight="normal" fill="#1a1a1a" stroke="#1a1a1a" stroke-width="0.1">Radiance</text>
<text x="0" y="0" transform="translate(286.00,302.30)" font-size="4.2" text-anchor="start" font-weight="normal" fill="#1a1a1a" stroke="#1a1a1a" stroke-width="0.1">(p/sec/cm²/sr)</text>
<rect x="284.7" y="305.3" width="30" height="17.4" fill="#fff" stroke="#555" stroke-width="0.8"/>
<text x="0" y="0" transform="translate(286.30,310.60)" font-size="4.3" text-anchor="start" font-weight="normal" fill="#1a1a1a" stroke="#1a1a1a" stroke-width="0.1">Color Scale</text>
<text x="0" y="0" transform="translate(286.30,315.90)" font-size="4.3" text-anchor="start" font-weight="normal" fill="#1a1a1a" stroke="#1a1a1a" stroke-width="0.1">Min = 4.00e³</text>
<text x="0" y="0" transform="translate(286.30,320.60)" font-size="4.3" text-anchor="start" font-weight="normal" fill="#1a1a1a" stroke="#1a1a1a" stroke-width="0.1">Max = 5.00e⁴</text>
<rect x="336.6" y="189.2" width="131.5" height="59.3" fill="#1e1e1e"/>
<rect x="337.1" y="189.2" width="1.3" height="59.3" fill="#282828"/>
<rect x="337.1" y="189.7" width="1.4" height="8.4" fill="#6a6a6a"/>
<rect x="339.7" y="189.2" width="1.3" height="59.3" fill="#242424"/>
<rect x="339.7" y="189.7" width="1.4" height="5.5" fill="#606060"/>
<rect x="342.3" y="189.2" width="1.3" height="59.3" fill="#222"/>
<rect x="342.3" y="189.7" width="1.4" height="7.6" fill="#3c3c3c"/>
<rect x="344.9" y="189.2" width="1.3" height="59.3" fill="#282828"/>
<rect x="344.9" y="189.7" width="1.4" height="7.0" fill="#4a4a4a"/>
<rect x="347.5" y="189.2" width="1.3" height="59.3" fill="#222"/>
<rect x="347.5" y="189.7" width="1.4" height="7.4" fill="#3c3c3c"/>
<rect x="350.1" y="189.2" width="1.3" height="59.3" fill="#242424"/>
<rect x="350.1" y="189.7" width="1.4" height="6.8" fill="#808080"/>
<rect x="352.7" y="189.2" width="1.3" height="59.3" fill="#282828"/>
<rect x="352.7" y="189.7" width="1.4" height="8.8" fill="#6a6a6a"/>
<rect x="355.3" y="189.2" width="1.3" height="59.3" fill="#2c2c2c"/>
<rect x="355.3" y="189.7" width="1.4" height="5.1" fill="#4a4a4a"/>
<rect x="357.9" y="189.2" width="1.3" height="59.3" fill="#303030"/>
<rect x="357.9" y="189.7" width="1.4" height="8.8" fill="#4a4a4a"/>
<rect x="360.5" y="189.2" width="1.3" height="59.3" fill="#222"/>
<rect x="360.5" y="189.7" width="1.4" height="5.9" fill="#808080"/>
<rect x="363.1" y="189.2" width="1.3" height="59.3" fill="#222"/>
<rect x="363.1" y="189.7" width="1.4" height="5.1" fill="#808080"/>
<rect x="365.7" y="189.2" width="1.3" height="59.3" fill="#282828"/>
<rect x="365.7" y="189.7" width="1.4" height="8.8" fill="#3c3c3c"/>
<rect x="368.3" y="189.2" width="1.3" height="59.3" fill="#303030"/>
<rect x="368.3" y="189.7" width="1.4" height="6.4" fill="#555"/>
<rect x="370.9" y="189.2" width="1.3" height="59.3" fill="#282828"/>
<rect x="370.9" y="189.7" width="1.4" height="8.8" fill="#3c3c3c"/>
<rect x="373.5" y="189.2" width="1.3" height="59.3" fill="#242424"/>
<rect x="373.5" y="189.7" width="1.4" height="8.4" fill="#3c3c3c"/>
<rect x="376.1" y="189.2" width="1.3" height="59.3" fill="#303030"/>
<rect x="376.1" y="189.7" width="1.4" height="5.4" fill="#808080"/>
<rect x="378.7" y="189.2" width="1.3" height="59.3" fill="#2c2c2c"/>
<rect x="378.7" y="189.7" width="1.4" height="8.0" fill="#4a4a4a"/>
<rect x="381.3" y="189.2" width="1.3" height="59.3" fill="#303030"/>
<rect x="381.3" y="189.7" width="1.4" height="7.0" fill="#3c3c3c"/>
<rect x="383.9" y="189.2" width="1.3" height="59.3" fill="#282828"/>
<rect x="383.9" y="189.7" width="1.4" height="6.1" fill="#606060"/>
<rect x="386.5" y="189.2" width="1.3" height="59.3" fill="#222"/>
<rect x="386.5" y="189.7" width="1.4" height="6.6" fill="#6a6a6a"/>
<rect x="389.1" y="189.2" width="1.3" height="59.3" fill="#242424"/>
<rect x="389.1" y="189.7" width="1.4" height="6.0" fill="#3c3c3c"/>
<rect x="391.7" y="189.2" width="1.3" height="59.3" fill="#222"/>
<rect x="391.7" y="189.7" width="1.4" height="7.7" fill="#3c3c3c"/>
<rect x="394.3" y="189.2" width="1.3" height="59.3" fill="#2c2c2c"/>
<rect x="394.3" y="189.7" width="1.4" height="8.5" fill="#6a6a6a"/>
<rect x="396.9" y="189.2" width="1.3" height="59.3" fill="#2c2c2c"/>
<rect x="396.9" y="189.7" width="1.4" height="6.8" fill="#4a4a4a"/>
<rect x="399.5" y="189.2" width="1.3" height="59.3" fill="#303030"/>
<rect x="399.5" y="189.7" width="1.4" height="8.1" fill="#4a4a4a"/>
<rect x="402.1" y="189.2" width="1.3" height="59.3" fill="#303030"/>
<rect x="402.1" y="189.7" width="1.4" height="6.5" fill="#3c3c3c"/>
<rect x="404.7" y="189.2" width="1.3" height="59.3" fill="#242424"/>
<rect x="404.7" y="189.7" width="1.4" height="5.2" fill="#3c3c3c"/>
<rect x="407.3" y="189.2" width="1.3" height="59.3" fill="#303030"/>
<rect x="407.3" y="189.7" width="1.4" height="7.3" fill="#6a6a6a"/>
<rect x="409.9" y="189.2" width="1.3" height="59.3" fill="#282828"/>
<rect x="409.9" y="189.7" width="1.4" height="7.0" fill="#555"/>
<rect x="412.5" y="189.2" width="1.3" height="59.3" fill="#242424"/>
<rect x="412.5" y="189.7" width="1.4" height="7.2" fill="#555"/>
<rect x="415.1" y="189.2" width="1.3" height="59.3" fill="#303030"/>
<rect x="415.1" y="189.7" width="1.4" height="6.6" fill="#555"/>
<rect x="417.7" y="189.2" width="1.3" height="59.3" fill="#2c2c2c"/>
<rect x="417.7" y="189.7" width="1.4" height="6.4" fill="#6a6a6a"/>
<rect x="420.3" y="189.2" width="1.3" height="59.3" fill="#2c2c2c"/>
<rect x="420.3" y="189.7" width="1.4" height="7.2" fill="#808080"/>
<rect x="422.9" y="189.2" width="1.3" height="59.3" fill="#242424"/>
<rect x="422.9" y="189.7" width="1.4" height="8.1" fill="#3c3c3c"/>
<rect x="425.5" y="189.2" width="1.3" height="59.3" fill="#303030"/>
<rect x="425.5" y="189.7" width="1.4" height="7.1" fill="#555"/>
<rect x="428.1" y="189.2" width="1.3" height="59.3" fill="#303030"/>
<rect x="428.1" y="189.7" width="1.4" height="6.7" fill="#555"/>
<rect x="430.7" y="189.2" width="1.3" height="59.3" fill="#242424"/>
<rect x="430.7" y="189.7" width="1.4" height="8.5" fill="#3c3c3c"/>
<rect x="433.3" y="189.2" width="1.3" height="59.3" fill="#303030"/>
<rect x="433.3" y="189.7" width="1.4" height="5.8" fill="#6a6a6a"/>
<rect x="435.9" y="189.2" width="1.3" height="59.3" fill="#303030"/>
<rect x="435.9" y="189.7" width="1.4" height="6.9" fill="#3c3c3c"/>
<rect x="438.5" y="189.2" width="1.3" height="59.3" fill="#2c2c2c"/>
<rect x="438.5" y="189.7" width="1.4" height="6.4" fill="#3c3c3c"/>
<rect x="441.1" y="189.2" width="1.3" height="59.3" fill="#303030"/>
<rect x="441.1" y="189.7" width="1.4" height="7.5" fill="#6a6a6a"/>
<rect x="443.7" y="189.2" width="1.3" height="59.3" fill="#303030"/>
<rect x="443.7" y="189.7" width="1.4" height="6.8" fill="#606060"/>
<rect x="446.3" y="189.2" width="1.3" height="59.3" fill="#242424"/>
<rect x="446.3" y="189.7" width="1.4" height="7.5" fill="#555"/>
<rect x="448.9" y="189.2" width="1.3" height="59.3" fill="#303030"/>
<rect x="448.9" y="189.7" width="1.4" height="5.7" fill="#6a6a6a"/>
<rect x="451.5" y="189.2" width="1.3" height="59.3" fill="#242424"/>
<rect x="451.5" y="189.7" width="1.4" height="8.2" fill="#6a6a6a"/>
<rect x="454.1" y="189.2" width="1.3" height="59.3" fill="#2c2c2c"/>
<rect x="454.1" y="189.7" width="1.4" height="8.4" fill="#4a4a4a"/>
<rect x="456.7" y="189.2" width="1.3" height="59.3" fill="#242424"/>
<rect x="456.7" y="189.7" width="1.4" height="8.5" fill="#4a4a4a"/>
<rect x="459.3" y="189.2" width="1.3" height="59.3" fill="#222"/>
<rect x="459.3" y="189.7" width="1.4" height="8.0" fill="#4a4a4a"/>
<rect x="461.9" y="189.2" width="1.3" height="59.3" fill="#2c2c2c"/>
<rect x="461.9" y="189.7" width="1.4" height="6.1" fill="#555"/>
<rect x="464.5" y="189.2" width="1.3" height="59.3" fill="#303030"/>
<rect x="464.5" y="189.7" width="1.4" height="6.4" fill="#555"/>
<g filter="url(#soft)">
<path d="M345.0,236.5 L341.0,240.5 L338.0,242.0" stroke="#c4c4c4" stroke-width="2.4" fill="none" stroke-linecap="round"/>
<path d="M357.0,236.5 L361.0,240.5 L364.0,242.0" stroke="#c4c4c4" stroke-width="2.4" fill="none" stroke-linecap="round"/>
<path d="M343.0,206.0 L340.5,208.0" stroke="#b4b4b4" stroke-width="2" fill="none" stroke-linecap="round"/>
<path d="M359.0,206.0 L361.5,208.0" stroke="#b4b4b4" stroke-width="2" fill="none" stroke-linecap="round"/>
<path d="M351.0,239.5 L351.3,248.5" stroke="#9a9a9a" stroke-width="1.5" fill="none"/>
<path d="M350.5,190.3 L352.4,191.5 L354.0,193.6 L354.9,196.1 L356.1,198.5 L358.0,199.9 L359.1,201.5 L358.2,203.1 L359.0,205.3 L360.0,209.3 L360.6,214.8 L361.0,221.7 L361.0,227.6 L360.7,232.6 L359.8,236.0 L357.8,238.5 L355.0,240.0 L351.0,240.5 L347.0,240.0 L344.1,238.5 L342.1,236.0 L341.1,232.6 L340.7,227.6 L340.6,221.7 L340.9,214.8 L341.4,209.3 L342.3,205.3 L343.0,203.1 L342.2,201.5 L343.2,199.9 L345.1,198.5 L346.2,196.1 L347.1,193.6 L348.6,191.5 L350.5,190.3 Z" fill="url(#mvert)"/>
<path d="M350.5,190.3 L352.4,191.5 L354.0,193.6 L354.9,196.1 L356.1,198.5 L358.0,199.9 L359.1,201.5 L358.2,203.1 L359.0,205.3 L360.0,209.3 L360.6,214.8 L361.0,221.7 L361.0,227.6 L360.7,232.6 L359.8,236.0 L357.8,238.5 L355.0,240.0 L351.0,240.5 L347.0,240.0 L344.1,238.5 L342.1,236.0 L341.1,232.6 L340.7,227.6 L340.6,221.7 L340.9,214.8 L341.4,209.3 L342.3,205.3 L343.0,203.1 L342.2,201.5 L343.2,199.9 L345.1,198.5 L346.2,196.1 L347.1,193.6 L348.6,191.5 L350.5,190.3 Z" fill="url(#medge)"/>
<ellipse cx="345.8" cy="203.8" rx="2.3" ry="1.3" fill="#9a9a9a" opacity="0.35"/>
<ellipse cx="348.3" cy="224.0" rx="2.2" ry="1.5" fill="#9a9a9a" opacity="0.35"/>
<ellipse cx="350.7" cy="198.9" rx="2.1" ry="1.6" fill="#9a9a9a" opacity="0.35"/>
<ellipse cx="347.3" cy="202.0" rx="2.8" ry="1.8" fill="#9a9a9a" opacity="0.35"/>
<ellipse cx="347.5" cy="220.1" rx="2.7" ry="1.0" fill="#9a9a9a" opacity="0.35"/>
<ellipse cx="345.2" cy="203.3" rx="2.6" ry="1.2" fill="#9a9a9a" opacity="0.35"/>
<ellipse cx="353.5" cy="222.8" rx="2.3" ry="1.3" fill="#9a9a9a" opacity="0.35"/>
<path d="M371.6,237.0 L367.6,241.0 L364.6,242.5" stroke="#c4c4c4" stroke-width="2.4" fill="none" stroke-linecap="round"/>
<path d="M383.6,237.0 L387.6,241.0 L390.6,242.5" stroke="#c4c4c4" stroke-width="2.4" fill="none" stroke-linecap="round"/>
<path d="M369.6,206.5 L367.1,208.5" stroke="#b4b4b4" stroke-width="2" fill="none" stroke-linecap="round"/>
<path d="M385.6,206.5 L388.1,208.5" stroke="#b4b4b4" stroke-width="2" fill="none" stroke-linecap="round"/>
<path d="M377.6,240.0 L377.9,248.5" stroke="#9a9a9a" stroke-width="1.5" fill="none"/>
<path d="M377.6,190.8 L379.6,192.0 L381.2,194.1 L382.2,196.6 L383.4,199.0 L385.4,200.4 L386.5,202.0 L385.6,203.6 L386.4,205.8 L387.4,209.8 L388.0,215.3 L388.3,222.2 L388.3,228.1 L387.9,233.1 L386.9,236.5 L384.8,239.0 L381.8,240.5 L377.6,241.0 L373.4,240.5 L370.4,239.0 L368.3,236.5 L367.3,233.1 L366.9,228.1 L366.9,222.2 L367.2,215.3 L367.8,209.8 L368.8,205.8 L369.6,203.6 L368.7,202.0 L369.8,200.4 L371.8,199.0 L373.0,196.6 L374.0,194.1 L375.6,192.0 L377.6,190.8 Z" fill="url(#mvert)"/>
<path d="M377.6,190.8 L379.6,192.0 L381.2,194.1 L382.2,196.6 L383.4,199.0 L385.4,200.4 L386.5,202.0 L385.6,203.6 L386.4,205.8 L387.4,209.8 L388.0,215.3 L388.3,222.2 L388.3,228.1 L387.9,233.1 L386.9,236.5 L384.8,239.0 L381.8,240.5 L377.6,241.0 L373.4,240.5 L370.4,239.0 L368.3,236.5 L367.3,233.1 L366.9,228.1 L366.9,222.2 L367.2,215.3 L367.8,209.8 L368.8,205.8 L369.6,203.6 L368.7,202.0 L369.8,200.4 L371.8,199.0 L373.0,196.6 L374.0,194.1 L375.6,192.0 L377.6,190.8 Z" fill="url(#medge)"/>
<ellipse cx="383.3" cy="227.6" rx="2.3" ry="1.3" fill="#9a9a9a" opacity="0.35"/>
<ellipse cx="379.4" cy="212.9" rx="2.4" ry="1.5" fill="#9a9a9a" opacity="0.35"/>
<ellipse cx="379.2" cy="200.6" rx="1.9" ry="2.5" fill="#9a9a9a" opacity="0.35"/>
<ellipse cx="382.1" cy="209.7" rx="2.8" ry="1.5" fill="#9a9a9a" opacity="0.35"/>
<ellipse cx="382.9" cy="225.7" rx="2.1" ry="1.4" fill="#9a9a9a" opacity="0.35"/>
<ellipse cx="371.7" cy="230.6" rx="1.6" ry="2.2" fill="#9a9a9a" opacity="0.35"/>
<ellipse cx="383.1" cy="219.3" rx="1.8" ry="2.3" fill="#9a9a9a" opacity="0.35"/>
<path d="M396.2,237.5 L392.2,241.5 L389.2,243.0" stroke="#c4c4c4" stroke-width="2.4" fill="none" stroke-linecap="round"/>
<path d="M408.2,237.5 L412.2,241.5 L415.2,243.0" stroke="#c4c4c4" stroke-width="2.4" fill="none" stroke-linecap="round"/>
<path d="M394.2,207.0 L391.7,209.0" stroke="#b4b4b4" stroke-width="2" fill="none" stroke-linecap="round"/>
<path d="M410.2,207.0 L412.7,209.0" stroke="#b4b4b4" stroke-width="2" fill="none" stroke-linecap="round"/>
<path d="M402.2,240.5 L402.5,248.5" stroke="#9a9a9a" stroke-width="1.5" fill="none"/>
<path d="M402.7,191.3 L404.7,192.5 L406.3,194.6 L407.2,197.1 L408.4,199.5 L410.4,200.9 L411.5,202.5 L410.6,204.1 L411.3,206.3 L412.3,210.3 L412.9,215.8 L413.1,222.7 L413.0,228.6 L412.6,233.6 L411.5,237.0 L409.4,239.5 L406.4,241.0 L402.2,241.5 L398.0,241.0 L395.0,239.5 L392.9,237.0 L392.0,233.6 L391.6,228.6 L391.7,222.7 L392.1,215.8 L392.7,210.3 L393.7,206.3 L394.6,204.1 L393.7,202.5 L394.8,200.9 L396.8,199.5 L398.0,197.1 L399.1,194.6 L400.7,192.5 L402.7,191.3 Z" fill="url(#mvert)"/>
<path d="M402.7,191.3 L404.7,192.5 L406.3,194.6 L407.2,197.1 L408.4,199.5 L410.4,200.9 L411.5,202.5 L410.6,204.1 L411.3,206.3 L412.3,210.3 L412.9,215.8 L413.1,222.7 L413.0,228.6 L412.6,233.6 L411.5,237.0 L409.4,239.5 L406.4,241.0 L402.2,241.5 L398.0,241.0 L395.0,239.5 L392.9,237.0 L392.0,233.6 L391.6,228.6 L391.7,222.7 L392.1,215.8 L392.7,210.3 L393.7,206.3 L394.6,204.1 L393.7,202.5 L394.8,200.9 L396.8,199.5 L398.0,197.1 L399.1,194.6 L400.7,192.5 L402.7,191.3 Z" fill="url(#medge)"/>
<ellipse cx="407.9" cy="224.7" rx="2.3" ry="1.6" fill="#9a9a9a" opacity="0.35"/>
<ellipse cx="400.4" cy="206.5" rx="2.5" ry="1.6" fill="#9a9a9a" opacity="0.35"/>
<ellipse cx="398.5" cy="202.8" rx="2.5" ry="1.4" fill="#9a9a9a" opacity="0.35"/>
<ellipse cx="402.2" cy="210.9" rx="2.8" ry="2.3" fill="#9a9a9a" opacity="0.35"/>
<ellipse cx="396.4" cy="206.3" rx="2.0" ry="2.5" fill="#9a9a9a" opacity="0.35"/>
<ellipse cx="405.6" cy="211.4" rx="1.8" ry="2.0" fill="#9a9a9a" opacity="0.35"/>
<ellipse cx="406.3" cy="233.0" rx="2.0" ry="2.3" fill="#9a9a9a" opacity="0.35"/>
<path d="M420.8,236.5 L416.8,240.5 L413.8,242.0" stroke="#c4c4c4" stroke-width="2.4" fill="none" stroke-linecap="round"/>
<path d="M432.8,236.5 L436.8,240.5 L439.8,242.0" stroke="#c4c4c4" stroke-width="2.4" fill="none" stroke-linecap="round"/>
<path d="M418.8,206.5 L416.3,208.5" stroke="#b4b4b4" stroke-width="2" fill="none" stroke-linecap="round"/>
<path d="M434.8,206.5 L437.3,208.5" stroke="#b4b4b4" stroke-width="2" fill="none" stroke-linecap="round"/>
<path d="M426.8,239.5 L427.1,248.5" stroke="#9a9a9a" stroke-width="1.5" fill="none"/>
<path d="M427.3,190.8 L429.2,192.0 L430.7,194.0 L431.6,196.6 L432.7,198.9 L434.6,200.3 L435.6,201.9 L434.8,203.4 L435.5,205.7 L436.4,209.6 L436.9,215.0 L437.2,221.9 L437.1,227.8 L436.7,232.7 L435.7,236.1 L433.7,238.5 L430.8,240.0 L426.8,240.5 L422.8,240.0 L420.0,238.5 L418.0,236.1 L417.1,232.7 L416.8,227.8 L416.8,221.9 L417.2,215.0 L417.8,209.6 L418.8,205.7 L419.6,203.4 L418.7,201.9 L419.8,200.3 L421.7,198.9 L422.9,196.6 L423.8,194.0 L425.4,192.0 L427.3,190.8 Z" fill="url(#mvert)"/>
<path d="M427.3,190.8 L429.2,192.0 L430.7,194.0 L431.6,196.6 L432.7,198.9 L434.6,200.3 L435.6,201.9 L434.8,203.4 L435.5,205.7 L436.4,209.6 L436.9,215.0 L437.2,221.9 L437.1,227.8 L436.7,232.7 L435.7,236.1 L433.7,238.5 L430.8,240.0 L426.8,240.5 L422.8,240.0 L420.0,238.5 L418.0,236.1 L417.1,232.7 L416.8,227.8 L416.8,221.9 L417.2,215.0 L417.8,209.6 L418.8,205.7 L419.6,203.4 L418.7,201.9 L419.8,200.3 L421.7,198.9 L422.9,196.6 L423.8,194.0 L425.4,192.0 L427.3,190.8 Z" fill="url(#medge)"/>
<ellipse cx="429.0" cy="215.9" rx="3.0" ry="1.4" fill="#9a9a9a" opacity="0.35"/>
<ellipse cx="429.5" cy="201.5" rx="1.8" ry="2.4" fill="#9a9a9a" opacity="0.35"/>
<ellipse cx="423.4" cy="225.8" rx="2.4" ry="2.3" fill="#9a9a9a" opacity="0.35"/>
<ellipse cx="425.2" cy="210.8" rx="1.9" ry="2.3" fill="#9a9a9a" opacity="0.35"/>
<ellipse cx="428.0" cy="232.9" rx="2.8" ry="1.2" fill="#9a9a9a" opacity="0.35"/>
<ellipse cx="427.4" cy="202.3" rx="1.6" ry="1.1" fill="#9a9a9a" opacity="0.35"/>
<ellipse cx="431.2" cy="226.9" rx="2.7" ry="1.5" fill="#9a9a9a" opacity="0.35"/>
<path d="M445.0,237.0 L441.0,241.0 L438.0,242.5" stroke="#c4c4c4" stroke-width="2.4" fill="none" stroke-linecap="round"/>
<path d="M457.0,237.0 L461.0,241.0 L464.0,242.5" stroke="#c4c4c4" stroke-width="2.4" fill="none" stroke-linecap="round"/>
<path d="M443.0,207.0 L440.5,209.0" stroke="#b4b4b4" stroke-width="2" fill="none" stroke-linecap="round"/>
<path d="M459.0,207.0 L461.5,209.0" stroke="#b4b4b4" stroke-width="2" fill="none" stroke-linecap="round"/>
<path d="M451.0,240.0 L451.3,248.5" stroke="#9a9a9a" stroke-width="1.5" fill="none"/>
<path d="M450.0,191.3 L452.0,192.5 L453.7,194.5 L454.7,197.1 L456.0,199.4 L458.0,200.8 L459.1,202.4 L458.3,203.9 L459.1,206.2 L460.2,210.1 L460.9,215.5 L461.3,222.4 L461.4,228.3 L461.1,233.2 L460.2,236.6 L458.2,239.0 L455.2,240.5 L451.0,241.0 L446.8,240.5 L443.8,239.0 L441.6,236.6 L440.5,233.2 L440.0,228.3 L439.9,222.4 L440.1,215.5 L440.6,210.1 L441.5,206.2 L442.3,203.9 L441.3,202.4 L442.4,200.8 L444.4,199.4 L445.5,197.1 L446.5,194.5 L448.0,192.5 L450.0,191.3 Z" fill="url(#mvert)"/>
<path d="M450.0,191.3 L452.0,192.5 L453.7,194.5 L454.7,197.1 L456.0,199.4 L458.0,200.8 L459.1,202.4 L458.3,203.9 L459.1,206.2 L460.2,210.1 L460.9,215.5 L461.3,222.4 L461.4,228.3 L461.1,233.2 L460.2,236.6 L458.2,239.0 L455.2,240.5 L451.0,241.0 L446.8,240.5 L443.8,239.0 L441.6,236.6 L440.5,233.2 L440.0,228.3 L439.9,222.4 L440.1,215.5 L440.6,210.1 L441.5,206.2 L442.3,203.9 L441.3,202.4 L442.4,200.8 L444.4,199.4 L445.5,197.1 L446.5,194.5 L448.0,192.5 L450.0,191.3 Z" fill="url(#medge)"/>
<ellipse cx="452.4" cy="227.1" rx="2.1" ry="1.9" fill="#9a9a9a" opacity="0.35"/>
<ellipse cx="447.7" cy="201.9" rx="1.9" ry="2.3" fill="#9a9a9a" opacity="0.35"/>
<ellipse cx="451.8" cy="232.3" rx="2.2" ry="1.4" fill="#9a9a9a" opacity="0.35"/>
<ellipse cx="454.4" cy="228.8" rx="1.5" ry="2.0" fill="#9a9a9a" opacity="0.35"/>
<ellipse cx="446.1" cy="203.1" rx="2.8" ry="1.1" fill="#9a9a9a" opacity="0.35"/>
<ellipse cx="447.9" cy="234.6" rx="2.1" ry="1.2" fill="#9a9a9a" opacity="0.35"/>
<ellipse cx="447.0" cy="207.7" rx="2.6" ry="1.2" fill="#9a9a9a" opacity="0.35"/>
</g>
<rect x="356.3" y="220.9" width="1.3" height="1.3" fill="#8850ff" opacity="0.9"/>
<rect x="347.0" y="221.1" width="0.9" height="0.9" fill="#7b3cff" opacity="0.9"/>
<rect x="353.9" y="229.8" width="0.9" height="0.9" fill="#6a2cff" opacity="0.9"/>
<rect x="355.1" y="209.9" width="1.3" height="1.3" fill="#9a70ff" opacity="0.9"/>
<rect x="349.7" y="226.0" width="0.9" height="0.9" fill="#6a2cff" opacity="0.9"/>
<rect x="354.9" y="223.7" width="1.5" height="1.5" fill="#5a1ee8" opacity="0.9"/>
<rect x="351.4" y="220.0" width="1.1" height="1.1" fill="#8850ff" opacity="0.9"/>
<rect x="351.9" y="228.9" width="1.3" height="1.3" fill="#6a2cff" opacity="0.9"/>
<rect x="358.7" y="230.1" width="1.3" height="1.3" fill="#6a2cff" opacity="0.9"/>
<rect x="356.7" y="221.9" width="0.9" height="0.9" fill="#7b3cff" opacity="0.9"/>
<rect x="351.4" y="229.3" width="1.3" height="1.3" fill="#8850ff" opacity="0.9"/>
<rect x="353.0" y="227.3" width="0.9" height="0.9" fill="#8850ff" opacity="0.9"/>
<rect x="353.0" y="225.6" width="1.5" height="1.5" fill="#5a1ee8" opacity="0.9"/>
<rect x="357.5" y="227.9" width="0.9" height="0.9" fill="#6a2cff" opacity="0.9"/>
<rect x="353.6" y="224.4" width="1.5" height="1.5" fill="#7b3cff" opacity="0.9"/>
<rect x="345.2" y="226.8" width="1.3" height="1.3" fill="#6a2cff" opacity="0.9"/>
<rect x="356.2" y="234.3" width="1.3" height="1.3" fill="#5a1ee8" opacity="0.9"/>
<rect x="350.8" y="233.9" width="1.3" height="1.3" fill="#8850ff" opacity="0.9"/>
<rect x="354.9" y="227.5" width="0.9" height="0.9" fill="#8850ff" opacity="0.9"/>
<rect x="354.4" y="212.5" width="1.1" height="1.1" fill="#8850ff" opacity="0.9"/>
<rect x="354.9" y="230.5" width="0.9" height="0.9" fill="#5a1ee8" opacity="0.9"/>
<rect x="351.7" y="214.9" width="0.9" height="0.9" fill="#7b3cff" opacity="0.9"/>
<rect x="351.2" y="217.9" width="1.3" height="1.3" fill="#4a18d8" opacity="0.9"/>
<rect x="345.5" y="221.0" width="0.9" height="0.9" fill="#4a18d8" opacity="0.9"/>
<rect x="350.1" y="227.9" width="1.5" height="1.5" fill="#7b3cff" opacity="0.9"/>
<rect x="358.7" y="225.7" width="0.9" height="0.9" fill="#4a18d8" opacity="0.9"/>
<rect x="356.5" y="226.6" width="1.1" height="1.1" fill="#5a1ee8" opacity="0.9"/>
<rect x="352.1" y="232.6" width="0.9" height="0.9" fill="#5a1ee8" opacity="0.9"/>
<rect x="353.1" y="225.1" width="1.3" height="1.3" fill="#8850ff" opacity="0.9"/>
<rect x="347.2" y="224.2" width="1.1" height="1.1" fill="#4a18d8" opacity="0.9"/>
<rect x="353.3" y="231.9" width="1.1" height="1.1" fill="#4a18d8" opacity="0.9"/>
<rect x="352.2" y="218.6" width="1.3" height="1.3" fill="#8850ff" opacity="0.9"/>
<rect x="355.8" y="223.5" width="1.3" height="1.3" fill="#6a2cff" opacity="0.9"/>
<rect x="356.7" y="233.6" width="1.3" height="1.3" fill="#5a1ee8" opacity="0.9"/>
<rect x="352.0" y="229.5" width="1.3" height="1.3" fill="#8850ff" opacity="0.9"/>
<rect x="356.2" y="233.0" width="0.9" height="0.9" fill="#4a18d8" opacity="0.9"/>
<rect x="358.3" y="213.4" width="1.5" height="1.5" fill="#8850ff" opacity="0.9"/>
<rect x="354.4" y="228.7" width="0.9" height="0.9" fill="#5a1ee8" opacity="0.9"/>
<rect x="349.0" y="224.5" width="1.3" height="1.3" fill="#9a70ff" opacity="0.9"/>
<rect x="347.2" y="232.7" width="0.9" height="0.9" fill="#8850ff" opacity="0.9"/>
<rect x="351.3" y="223.9" width="0.9" height="0.9" fill="#7b3cff" opacity="0.9"/>
<rect x="355.1" y="223.4" width="0.9" height="0.9" fill="#8850ff" opacity="0.9"/>
<rect x="344.4" y="229.3" width="1.5" height="1.5" fill="#4a18d8" opacity="0.9"/>
<rect x="346.0" y="232.9" width="1.1" height="1.1" fill="#4a18d8" opacity="0.9"/>
<rect x="349.7" y="219.1" width="0.9" height="0.9" fill="#5a1ee8" opacity="0.9"/>
<rect x="348.5" y="227.7" width="1.3" height="1.3" fill="#6a2cff" opacity="0.9"/>
<rect x="352.3" y="230.5" width="0.9" height="0.9" fill="#8850ff" opacity="0.9"/>
<rect x="357.7" y="222.3" width="0.9" height="0.9" fill="#8850ff" opacity="0.9"/>
<rect x="353.2" y="229.3" width="1.3" height="1.3" fill="#5a1ee8" opacity="0.9"/>
<rect x="354.6" y="227.8" width="1.3" height="1.3" fill="#7b3cff" opacity="0.9"/>
<rect x="355.2" y="218.2" width="1.3" height="1.3" fill="#5a1ee8" opacity="0.9"/>
<rect x="345.1" y="225.0" width="1.5" height="1.5" fill="#5a1ee8" opacity="0.9"/>
<rect x="355.0" y="235.7" width="0.9" height="0.9" fill="#6a2cff" opacity="0.9"/>
<rect x="352.4" y="223.9" width="1.1" height="1.1" fill="#7b3cff" opacity="0.9"/>
<rect x="356.4" y="227.2" width="1.5" height="1.5" fill="#7b3cff" opacity="0.9"/>
<rect x="372.8" y="224.8" width="1.3" height="1.3" fill="#8850ff" opacity="0.9"/>
<rect x="382.9" y="225.1" width="1.3" height="1.3" fill="#4a18d8" opacity="0.9"/>
<rect x="375.8" y="233.6" width="1.5" height="1.5" fill="#9a70ff" opacity="0.9"/>
<rect x="372.8" y="232.7" width="1.1" height="1.1" fill="#7b3cff" opacity="0.9"/>
<rect x="383.0" y="224.2" width="1.5" height="1.5" fill="#8850ff" opacity="0.9"/>
<rect x="384.8" y="219.6" width="1.1" height="1.1" fill="#7b3cff" opacity="0.9"/>
<rect x="370.4" y="229.2" width="1.3" height="1.3" fill="#5a1ee8" opacity="0.9"/>
<rect x="370.1" y="222.8" width="1.5" height="1.5" fill="#8850ff" opacity="0.9"/>
<rect x="381.9" y="223.5" width="0.9" height="0.9" fill="#8850ff" opacity="0.9"/>
<rect x="369.2" y="225.7" width="1.3" height="1.3" fill="#9a70ff" opacity="0.9"/>
<rect x="374.0" y="218.3" width="1.1" height="1.1" fill="#9a70ff" opacity="0.9"/>
<rect x="369.7" y="209.2" width="1.1" height="1.1" fill="#7b3cff" opacity="0.9"/>
<rect x="378.5" y="208.6" width="0.9" height="0.9" fill="#8850ff" opacity="0.9"/>
<rect x="375.2" y="230.7" width="1.5" height="1.5" fill="#9a70ff" opacity="0.9"/>
<rect x="381.9" y="217.0" width="1.5" height="1.5" fill="#5a1ee8" opacity="0.9"/>
<rect x="380.4" y="216.0" width="0.9" height="0.9" fill="#4a18d8" opacity="0.9"/>
<rect x="377.2" y="229.1" width="1.5" height="1.5" fill="#8850ff" opacity="0.9"/>
<rect x="379.2" y="226.4" width="0.9" height="0.9" fill="#4a18d8" opacity="0.9"/>
<rect x="381.5" y="237.2" width="0.9" height="0.9" fill="#5a1ee8" opacity="0.9"/>
<rect x="371.3" y="232.9" width="1.3" height="1.3" fill="#8850ff" opacity="0.9"/>
<rect x="378.4" y="230.9" width="1.3" height="1.3" fill="#7b3cff" opacity="0.9"/>
<rect x="384.5" y="230.8" width="1.3" height="1.3" fill="#8850ff" opacity="0.9"/>
<rect x="371.2" y="227.3" width="1.1" height="1.1" fill="#6a2cff" opacity="0.9"/>
<rect x="383.9" y="224.7" width="1.1" height="1.1" fill="#7b3cff" opacity="0.9"/>
<rect x="373.6" y="230.7" width="1.3" height="1.3" fill="#4a18d8" opacity="0.9"/>
<rect x="380.5" y="219.0" width="1.3" height="1.3" fill="#5a1ee8" opacity="0.9"/>
<rect x="385.1" y="221.8" width="0.9" height="0.9" fill="#9a70ff" opacity="0.9"/>
<rect x="383.5" y="210.5" width="1.3" height="1.3" fill="#4a18d8" opacity="0.9"/>
<rect x="377.5" y="232.1" width="1.1" height="1.1" fill="#6a2cff" opacity="0.9"/>
<rect x="382.0" y="216.4" width="1.1" height="1.1" fill="#8850ff" opacity="0.9"/>
<rect x="374.4" y="220.7" width="1.1" height="1.1" fill="#8850ff" opacity="0.9"/>
<rect x="379.3" y="228.8" width="1.5" height="1.5" fill="#9a70ff" opacity="0.9"/>
<rect x="372.1" y="236.5" width="0.9" height="0.9" fill="#5a1ee8" opacity="0.9"/>
<rect x="375.9" y="211.0" width="0.9" height="0.9" fill="#7b3cff" opacity="0.9"/>
<rect x="381.4" y="230.6" width="0.9" height="0.9" fill="#4a18d8" opacity="0.9"/>
<rect x="379.0" y="224.2" width="0.9" height="0.9" fill="#8850ff" opacity="0.9"/>
<rect x="380.2" y="221.0" width="1.5" height="1.5" fill="#6a2cff" opacity="0.9"/>
<rect x="374.9" y="209.2" width="1.5" height="1.5" fill="#8850ff" opacity="0.9"/>
<rect x="383.2" y="234.3" width="1.1" height="1.1" fill="#6a2cff" opacity="0.9"/>
<rect x="372.8" y="231.2" width="1.1" height="1.1" fill="#4a18d8" opacity="0.9"/>
<rect x="381.1" y="223.9" width="1.5" height="1.5" fill="#7b3cff" opacity="0.9"/>
<rect x="372.7" y="222.4" width="1.3" height="1.3" fill="#4a18d8" opacity="0.9"/>
<rect x="374.3" y="235.6" width="0.9" height="0.9" fill="#5a1ee8" opacity="0.9"/>
<rect x="386.1" y="229.6" width="1.3" height="1.3" fill="#4a18d8" opacity="0.9"/>
<rect x="384.9" y="213.8" width="1.1" height="1.1" fill="#7b3cff" opacity="0.9"/>
<rect x="369.2" y="235.9" width="1.1" height="1.1" fill="#9a70ff" opacity="0.9"/>
<rect x="377.8" y="222.8" width="1.1" height="1.1" fill="#4a18d8" opacity="0.9"/>
<rect x="382.0" y="217.1" width="1.5" height="1.5" fill="#8850ff" opacity="0.9"/>
<rect x="377.4" y="228.7" width="1.3" height="1.3" fill="#9a70ff" opacity="0.9"/>
<rect x="378.6" y="223.7" width="1.1" height="1.1" fill="#6a2cff" opacity="0.9"/>
<rect x="381.4" y="226.9" width="1.5" height="1.5" fill="#6a2cff" opacity="0.9"/>
<rect x="378.5" y="226.2" width="1.1" height="1.1" fill="#9a70ff" opacity="0.9"/>
<rect x="377.2" y="211.3" width="1.5" height="1.5" fill="#5a1ee8" opacity="0.9"/>
<rect x="372.1" y="233.1" width="1.1" height="1.1" fill="#7b3cff" opacity="0.9"/>
<rect x="377.7" y="237.0" width="1.1" height="1.1" fill="#8850ff" opacity="0.9"/>
<rect x="373.5" y="234.9" width="0.9" height="0.9" fill="#8850ff" opacity="0.9"/>
<rect x="382.7" y="218.6" width="1.1" height="1.1" fill="#8850ff" opacity="0.9"/>
<rect x="376.0" y="214.2" width="0.9" height="0.9" fill="#9a70ff" opacity="0.9"/>
<rect x="375.6" y="210.5" width="0.9" height="0.9" fill="#9a70ff" opacity="0.9"/>
<rect x="383.5" y="211.1" width="0.9" height="0.9" fill="#6a2cff" opacity="0.9"/>
<rect x="382.6" y="219.4" width="1.3" height="1.3" fill="#8850ff" opacity="0.9"/>
<rect x="381.0" y="229.6" width="0.9" height="0.9" fill="#5a1ee8" opacity="0.9"/>
<rect x="375.0" y="226.6" width="1.5" height="1.5" fill="#4a18d8" opacity="0.9"/>
<rect x="383.5" y="226.7" width="1.3" height="1.3" fill="#6a2cff" opacity="0.9"/>
<rect x="378.2" y="221.4" width="1.5" height="1.5" fill="#6a2cff" opacity="0.9"/>
<rect x="381.1" y="227.5" width="1.1" height="1.1" fill="#9a70ff" opacity="0.9"/>
<rect x="377.2" y="233.8" width="1.3" height="1.3" fill="#6a2cff" opacity="0.9"/>
<rect x="385.5" y="234.6" width="1.1" height="1.1" fill="#8850ff" opacity="0.9"/>
<rect x="375.3" y="232.2" width="1.5" height="1.5" fill="#4a18d8" opacity="0.9"/>
<rect x="383.3" y="233.0" width="0.9" height="0.9" fill="#4a18d8" opacity="0.9"/>
<rect x="385.0" y="214.7" width="1.1" height="1.1" fill="#7b3cff" opacity="0.9"/>
<rect x="379.0" y="233.5" width="0.9" height="0.9" fill="#7b3cff" opacity="0.9"/>
<rect x="375.3" y="227.5" width="0.9" height="0.9" fill="#6a2cff" opacity="0.9"/>
<rect x="372.4" y="223.0" width="1.3" height="1.3" fill="#7b3cff" opacity="0.9"/>
<rect x="376.8" y="224.9" width="1.1" height="1.1" fill="#6a2cff" opacity="0.9"/>
<rect x="378.9" y="213.5" width="1.3" height="1.3" fill="#4a18d8" opacity="0.9"/>
<rect x="382.1" y="206.2" width="0.9" height="0.9" fill="#8850ff" opacity="0.9"/>
<rect x="381.5" y="233.2" width="1.3" height="1.3" fill="#8850ff" opacity="0.9"/>
<rect x="379.1" y="211.3" width="1.3" height="1.3" fill="#9a70ff" opacity="0.9"/>
<rect x="374.4" y="217.8" width="1.3" height="1.3" fill="#4a18d8" opacity="0.9"/>
<rect x="374.5" y="223.9" width="1.3" height="1.3" fill="#5a1ee8" opacity="0.9"/>
<rect x="375.0" y="214.3" width="1.1" height="1.1" fill="#6a2cff" opacity="0.9"/>
<rect x="378.7" y="203.8" width="0.9" height="0.9" fill="#8850ff" opacity="0.9"/>
<rect x="382.7" y="201.9" width="1.3" height="1.3" fill="#9a70ff" opacity="0.9"/>
<rect x="376.8" y="219.1" width="0.9" height="0.9" fill="#6a2cff" opacity="0.9"/>
<rect x="409.0" y="209.7" width="1.1" height="1.1" fill="#5a1ee8" opacity="0.9"/>
<rect x="397.2" y="222.3" width="1.3" height="1.3" fill="#8850ff" opacity="0.9"/>
<rect x="408.1" y="216.6" width="1.1" height="1.1" fill="#7b3cff" opacity="0.9"/>
<rect x="408.8" y="214.9" width="1.5" height="1.5" fill="#5a1ee8" opacity="0.9"/>
<rect x="398.0" y="225.7" width="1.5" height="1.5" fill="#5a1ee8" opacity="0.9"/>
<rect x="401.5" y="205.8" width="1.5" height="1.5" fill="#7b3cff" opacity="0.9"/>
<rect x="405.7" y="238.0" width="1.5" height="1.5" fill="#4a18d8" opacity="0.9"/>
<rect x="409.7" y="229.1" width="1.5" height="1.5" fill="#8850ff" opacity="0.9"/>
<rect x="399.6" y="224.6" width="0.9" height="0.9" fill="#7b3cff" opacity="0.9"/>
<rect x="399.2" y="238.1" width="1.3" height="1.3" fill="#9a70ff" opacity="0.9"/>
<rect x="396.2" y="221.1" width="1.5" height="1.5" fill="#8850ff" opacity="0.9"/>
<rect x="397.2" y="215.5" width="1.3" height="1.3" fill="#4a18d8" opacity="0.9"/>
<rect x="407.1" y="230.5" width="1.1" height="1.1" fill="#5a1ee8" opacity="0.9"/>
<rect x="403.0" y="224.3" width="0.9" height="0.9" fill="#4a18d8" opacity="0.9"/>
<rect x="399.2" y="230.1" width="0.9" height="0.9" fill="#9a70ff" opacity="0.9"/>
<rect x="406.1" y="215.3" width="1.3" height="1.3" fill="#4a18d8" opacity="0.9"/>
<rect x="404.5" y="214.2" width="1.5" height="1.5" fill="#9a70ff" opacity="0.9"/>
<rect x="403.6" y="213.6" width="1.5" height="1.5" fill="#6a2cff" opacity="0.9"/>
<rect x="399.5" y="230.8" width="1.1" height="1.1" fill="#6a2cff" opacity="0.9"/>
<rect x="405.1" y="214.6" width="1.3" height="1.3" fill="#5a1ee8" opacity="0.9"/>
<rect x="408.4" y="219.9" width="1.3" height="1.3" fill="#8850ff" opacity="0.9"/>
<rect x="402.4" y="208.5" width="1.3" height="1.3" fill="#4a18d8" opacity="0.9"/>
<rect x="404.1" y="212.2" width="1.5" height="1.5" fill="#9a70ff" opacity="0.9"/>
<rect x="408.3" y="220.0" width="0.9" height="0.9" fill="#4a18d8" opacity="0.9"/>
<rect x="406.4" y="225.5" width="1.1" height="1.1" fill="#5a1ee8" opacity="0.9"/>
<rect x="402.7" y="218.6" width="1.5" height="1.5" fill="#5a1ee8" opacity="0.9"/>
<rect x="403.4" y="218.7" width="1.1" height="1.1" fill="#9a70ff" opacity="0.9"/>
<rect x="404.2" y="219.5" width="0.9" height="0.9" fill="#8850ff" opacity="0.9"/>
<rect x="396.5" y="219.4" width="0.9" height="0.9" fill="#7b3cff" opacity="0.9"/>
<rect x="408.6" y="230.3" width="0.9" height="0.9" fill="#4a18d8" opacity="0.9"/>
<rect x="402.5" y="220.2" width="0.9" height="0.9" fill="#5a1ee8" opacity="0.9"/>
<rect x="404.9" y="219.4" width="1.3" height="1.3" fill="#4a18d8" opacity="0.9"/>
<rect x="400.3" y="212.9" width="0.9" height="0.9" fill="#4a18d8" opacity="0.9"/>
<rect x="398.1" y="216.3" width="1.5" height="1.5" fill="#5a1ee8" opacity="0.9"/>
<rect x="396.5" y="213.3" width="1.3" height="1.3" fill="#5a1ee8" opacity="0.9"/>
<rect x="407.5" y="222.6" width="1.1" height="1.1" fill="#4a18d8" opacity="0.9"/>
<rect x="404.9" y="210.1" width="0.9" height="0.9" fill="#4a18d8" opacity="0.9"/>
<rect x="396.1" y="204.9" width="1.3" height="1.3" fill="#9a70ff" opacity="0.9"/>
<rect x="410.2" y="227.6" width="0.9" height="0.9" fill="#7b3cff" opacity="0.9"/>
<rect x="403.6" y="230.5" width="1.1" height="1.1" fill="#9a70ff" opacity="0.9"/>
<rect x="400.5" y="225.6" width="1.5" height="1.5" fill="#5a1ee8" opacity="0.9"/>
<rect x="396.1" y="218.2" width="1.1" height="1.1" fill="#6a2cff" opacity="0.9"/>
<rect x="407.1" y="220.5" width="1.3" height="1.3" fill="#4a18d8" opacity="0.9"/>
<rect x="402.6" y="229.6" width="1.5" height="1.5" fill="#7b3cff" opacity="0.9"/>
<rect x="403.2" y="228.9" width="1.5" height="1.5" fill="#5a1ee8" opacity="0.9"/>
<rect x="401.1" y="222.3" width="1.1" height="1.1" fill="#7b3cff" opacity="0.9"/>
<rect x="396.8" y="209.3" width="1.3" height="1.3" fill="#5a1ee8" opacity="0.9"/>
<rect x="398.5" y="215.4" width="1.1" height="1.1" fill="#6a2cff" opacity="0.9"/>
<rect x="409.5" y="213.4" width="0.9" height="0.9" fill="#5a1ee8" opacity="0.9"/>
<rect x="396.2" y="209.6" width="1.1" height="1.1" fill="#6a2cff" opacity="0.9"/>
<rect x="401.4" y="216.8" width="1.3" height="1.3" fill="#5a1ee8" opacity="0.9"/>
<rect x="402.6" y="223.4" width="1.3" height="1.3" fill="#6a2cff" opacity="0.9"/>
<rect x="404.7" y="217.0" width="1.1" height="1.1" fill="#9a70ff" opacity="0.9"/>
<rect x="401.5" y="236.1" width="1.3" height="1.3" fill="#7b3cff" opacity="0.9"/>
<rect x="397.6" y="216.2" width="0.9" height="0.9" fill="#6a2cff" opacity="0.9"/>
<rect x="401.6" y="227.6" width="1.1" height="1.1" fill="#7b3cff" opacity="0.9"/>
<rect x="402.3" y="220.5" width="0.9" height="0.9" fill="#6a2cff" opacity="0.9"/>
<rect x="402.6" y="218.6" width="1.1" height="1.1" fill="#7b3cff" opacity="0.9"/>
<rect x="402.8" y="226.0" width="0.9" height="0.9" fill="#6a2cff" opacity="0.9"/>
<rect x="406.6" y="230.4" width="1.1" height="1.1" fill="#9a70ff" opacity="0.9"/>
<rect x="407.1" y="227.7" width="1.3" height="1.3" fill="#6a2cff" opacity="0.9"/>
<rect x="405.6" y="221.8" width="1.1" height="1.1" fill="#9a70ff" opacity="0.9"/>
<rect x="394.3" y="211.1" width="0.9" height="0.9" fill="#4a18d8" opacity="0.9"/>
<rect x="399.7" y="211.1" width="1.5" height="1.5" fill="#8850ff" opacity="0.9"/>
<rect x="396.7" y="218.4" width="1.3" height="1.3" fill="#4a18d8" opacity="0.9"/>
<rect x="409.2" y="215.0" width="1.1" height="1.1" fill="#8850ff" opacity="0.9"/>
<rect x="429.6" y="225.8" width="1.1" height="1.1" fill="#5a1ee8" opacity="0.9"/>
<rect x="425.5" y="230.3" width="0.9" height="0.9" fill="#8850ff" opacity="0.9"/>
<rect x="424.5" y="228.6" width="1.3" height="1.3" fill="#8850ff" opacity="0.9"/>
<rect x="420.0" y="224.2" width="1.3" height="1.3" fill="#6a2cff" opacity="0.9"/>
<rect x="435.7" y="231.1" width="0.9" height="0.9" fill="#7b3cff" opacity="0.9"/>
<rect x="420.9" y="217.8" width="1.1" height="1.1" fill="#5a1ee8" opacity="0.9"/>
<rect x="429.8" y="227.1" width="1.1" height="1.1" fill="#9a70ff" opacity="0.9"/>
<rect x="425.0" y="216.4" width="1.1" height="1.1" fill="#7b3cff" opacity="0.9"/>
<rect x="429.0" y="233.3" width="1.5" height="1.5" fill="#4a18d8" opacity="0.9"/>
<rect x="429.0" y="229.4" width="1.3" height="1.3" fill="#7b3cff" opacity="0.9"/>
<rect x="420.5" y="212.1" width="0.9" height="0.9" fill="#8850ff" opacity="0.9"/>
<rect x="423.9" y="222.8" width="1.1" height="1.1" fill="#9a70ff" opacity="0.9"/>
<rect x="420.3" y="229.2" width="1.5" height="1.5" fill="#6a2cff" opacity="0.9"/>
<rect x="429.2" y="224.4" width="1.5" height="1.5" fill="#9a70ff" opacity="0.9"/>
<rect x="423.8" y="229.6" width="1.5" height="1.5" fill="#4a18d8" opacity="0.9"/>
<rect x="429.3" y="225.6" width="0.9" height="0.9" fill="#6a2cff" opacity="0.9"/>
<rect x="427.7" y="210.8" width="1.1" height="1.1" fill="#8850ff" opacity="0.9"/>
<rect x="421.3" y="229.2" width="1.1" height="1.1" fill="#9a70ff" opacity="0.9"/>
<rect x="430.1" y="218.7" width="1.3" height="1.3" fill="#6a2cff" opacity="0.9"/>
<rect x="426.1" y="220.5" width="1.3" height="1.3" fill="#6a2cff" opacity="0.9"/>
<rect x="418.1" y="228.3" width="0.9" height="0.9" fill="#7b3cff" opacity="0.9"/>
<rect x="421.0" y="218.1" width="1.3" height="1.3" fill="#7b3cff" opacity="0.9"/>
<rect x="424.6" y="216.6" width="1.1" height="1.1" fill="#9a70ff" opacity="0.9"/>
<rect x="420.9" y="216.6" width="1.3" height="1.3" fill="#6a2cff" opacity="0.9"/>
<rect x="420.1" y="209.9" width="1.5" height="1.5" fill="#5a1ee8" opacity="0.9"/>
<rect x="430.5" y="215.7" width="0.9" height="0.9" fill="#6a2cff" opacity="0.9"/>
<rect x="421.4" y="223.6" width="1.1" height="1.1" fill="#9a70ff" opacity="0.9"/>
<rect x="421.9" y="226.0" width="1.3" height="1.3" fill="#5a1ee8" opacity="0.9"/>
<rect x="428.5" y="222.0" width="1.5" height="1.5" fill="#5a1ee8" opacity="0.9"/>
<rect x="424.3" y="216.3" width="1.1" height="1.1" fill="#9a70ff" opacity="0.9"/>
<rect x="420.4" y="225.9" width="1.5" height="1.5" fill="#6a2cff" opacity="0.9"/>
<rect x="432.2" y="217.1" width="0.9" height="0.9" fill="#5a1ee8" opacity="0.9"/>
<rect x="423.0" y="225.4" width="0.9" height="0.9" fill="#6a2cff" opacity="0.9"/>
<rect x="429.2" y="220.2" width="1.3" height="1.3" fill="#4a18d8" opacity="0.9"/>
<rect x="426.8" y="221.0" width="0.9" height="0.9" fill="#8850ff" opacity="0.9"/>
<rect x="425.3" y="222.6" width="1.1" height="1.1" fill="#4a18d8" opacity="0.9"/>
<rect x="420.1" y="221.4" width="1.1" height="1.1" fill="#6a2cff" opacity="0.9"/>
<rect x="434.3" y="221.3" width="1.1" height="1.1" fill="#9a70ff" opacity="0.9"/>
<rect x="422.7" y="227.3" width="1.1" height="1.1" fill="#8850ff" opacity="0.9"/>
<rect x="427.2" y="231.3" width="1.1" height="1.1" fill="#8850ff" opacity="0.9"/>
<rect x="431.1" y="218.6" width="0.9" height="0.9" fill="#9a70ff" opacity="0.9"/>
<rect x="424.6" y="235.2" width="0.9" height="0.9" fill="#6a2cff" opacity="0.9"/>
<rect x="420.1" y="228.8" width="1.5" height="1.5" fill="#9a70ff" opacity="0.9"/>
<rect x="429.7" y="225.4" width="0.9" height="0.9" fill="#6a2cff" opacity="0.9"/>
<rect x="428.2" y="221.3" width="1.5" height="1.5" fill="#7b3cff" opacity="0.9"/>
<rect x="425.7" y="226.2" width="1.3" height="1.3" fill="#8850ff" opacity="0.9"/>
<rect x="425.3" y="213.1" width="1.5" height="1.5" fill="#8850ff" opacity="0.9"/>
<rect x="417.9" y="219.4" width="1.5" height="1.5" fill="#9a70ff" opacity="0.9"/>
<rect x="426.4" y="215.4" width="1.3" height="1.3" fill="#7b3cff" opacity="0.9"/>
<rect x="427.6" y="220.6" width="1.1" height="1.1" fill="#7b3cff" opacity="0.9"/>
<rect x="425.7" y="213.4" width="1.3" height="1.3" fill="#9a70ff" opacity="0.9"/>
<rect x="423.2" y="226.3" width="1.3" height="1.3" fill="#7b3cff" opacity="0.9"/>
<rect x="422.4" y="227.6" width="0.9" height="0.9" fill="#4a18d8" opacity="0.9"/>
<rect x="425.9" y="226.0" width="1.1" height="1.1" fill="#7b3cff" opacity="0.9"/>
<rect x="427.2" y="234.9" width="1.1" height="1.1" fill="#8850ff" opacity="0.9"/>
<rect x="424.7" y="226.8" width="1.5" height="1.5" fill="#4a18d8" opacity="0.9"/>
<rect x="424.1" y="220.2" width="1.1" height="1.1" fill="#6a2cff" opacity="0.9"/>
<rect x="424.8" y="220.7" width="1.5" height="1.5" fill="#9a70ff" opacity="0.9"/>
<rect x="419.5" y="230.1" width="1.1" height="1.1" fill="#8850ff" opacity="0.9"/>
<rect x="421.9" y="215.2" width="1.5" height="1.5" fill="#5a1ee8" opacity="0.9"/>
<rect x="426.4" y="226.6" width="1.5" height="1.5" fill="#9a70ff" opacity="0.9"/>
<rect x="444.7" y="236.5" width="1.3" height="1.3" fill="#5a1ee8" opacity="0.9"/>
<rect x="448.6" y="219.7" width="1.3" height="1.3" fill="#8850ff" opacity="0.9"/>
<rect x="455.9" y="232.9" width="1.5" height="1.5" fill="#5a1ee8" opacity="0.9"/>
<rect x="456.6" y="227.7" width="0.9" height="0.9" fill="#8850ff" opacity="0.9"/>
<rect x="444.5" y="218.2" width="0.9" height="0.9" fill="#7b3cff" opacity="0.9"/>
<rect x="456.1" y="229.9" width="1.1" height="1.1" fill="#5a1ee8" opacity="0.9"/>
<rect x="454.9" y="223.3" width="0.9" height="0.9" fill="#6a2cff" opacity="0.9"/>
<rect x="452.9" y="218.1" width="1.1" height="1.1" fill="#5a1ee8" opacity="0.9"/>
<rect x="445.5" y="225.8" width="1.1" height="1.1" fill="#9a70ff" opacity="0.9"/>
<rect x="451.2" y="219.8" width="1.1" height="1.1" fill="#8850ff" opacity="0.9"/>
<rect x="451.6" y="217.5" width="0.9" height="0.9" fill="#9a70ff" opacity="0.9"/>
<rect x="448.0" y="213.5" width="1.5" height="1.5" fill="#8850ff" opacity="0.9"/>
<rect x="446.9" y="218.5" width="1.3" height="1.3" fill="#5a1ee8" opacity="0.9"/>
<rect x="451.9" y="227.0" width="1.1" height="1.1" fill="#9a70ff" opacity="0.9"/>
<rect x="455.9" y="211.5" width="1.5" height="1.5" fill="#9a70ff" opacity="0.9"/>
<rect x="445.7" y="230.9" width="1.1" height="1.1" fill="#9a70ff" opacity="0.9"/>
<rect x="449.8" y="227.2" width="1.5" height="1.5" fill="#6a2cff" opacity="0.9"/>
<rect x="451.0" y="224.3" width="0.9" height="0.9" fill="#9a70ff" opacity="0.9"/>
<rect x="453.8" y="215.1" width="1.1" height="1.1" fill="#5a1ee8" opacity="0.9"/>
<rect x="447.4" y="223.4" width="1.5" height="1.5" fill="#8850ff" opacity="0.9"/>
<rect x="446.9" y="225.4" width="0.9" height="0.9" fill="#7b3cff" opacity="0.9"/>
<rect x="448.8" y="227.9" width="1.1" height="1.1" fill="#6a2cff" opacity="0.9"/>
<rect x="455.6" y="217.3" width="1.5" height="1.5" fill="#7b3cff" opacity="0.9"/>
<rect x="454.0" y="228.2" width="1.5" height="1.5" fill="#8850ff" opacity="0.9"/>
<rect x="452.9" y="229.9" width="1.3" height="1.3" fill="#8850ff" opacity="0.9"/>
<rect x="442.7" y="235.4" width="0.9" height="0.9" fill="#4a18d8" opacity="0.9"/>
<rect x="445.3" y="227.1" width="1.3" height="1.3" fill="#8850ff" opacity="0.9"/>
<rect x="451.0" y="217.0" width="1.3" height="1.3" fill="#8850ff" opacity="0.9"/>
<rect x="454.5" y="229.8" width="1.5" height="1.5" fill="#7b3cff" opacity="0.9"/>
<rect x="445.7" y="231.4" width="0.9" height="0.9" fill="#6a2cff" opacity="0.9"/>
<rect x="454.3" y="228.0" width="1.3" height="1.3" fill="#6a2cff" opacity="0.9"/>
<rect x="447.5" y="231.7" width="0.9" height="0.9" fill="#8850ff" opacity="0.9"/>
<rect x="446.1" y="219.0" width="0.9" height="0.9" fill="#4a18d8" opacity="0.9"/>
<rect x="452.0" y="219.8" width="0.9" height="0.9" fill="#8850ff" opacity="0.9"/>
<rect x="457.3" y="218.8" width="1.1" height="1.1" fill="#7b3cff" opacity="0.9"/>
<rect x="452.7" y="233.3" width="0.9" height="0.9" fill="#8850ff" opacity="0.9"/>
<rect x="442.9" y="234.0" width="1.3" height="1.3" fill="#4a18d8" opacity="0.9"/>
<rect x="457.3" y="225.6" width="1.3" height="1.3" fill="#8850ff" opacity="0.9"/>
<rect x="450.9" y="226.6" width="1.1" height="1.1" fill="#9a70ff" opacity="0.9"/>
<rect x="450.8" y="221.0" width="1.3" height="1.3" fill="#4a18d8" opacity="0.9"/>
<rect x="444.5" y="221.7" width="1.1" height="1.1" fill="#6a2cff" opacity="0.9"/>
<rect x="457.6" y="216.2" width="0.9" height="0.9" fill="#4a18d8" opacity="0.9"/>
<rect x="453.0" y="232.3" width="1.3" height="1.3" fill="#9a70ff" opacity="0.9"/>
<rect x="449.7" y="229.2" width="1.5" height="1.5" fill="#9a70ff" opacity="0.9"/>
<rect x="454.1" y="228.4" width="0.9" height="0.9" fill="#5a1ee8" opacity="0.9"/>
<rect x="446.0" y="224.0" width="1.1" height="1.1" fill="#7b3cff" opacity="0.9"/>
<rect x="456.7" y="228.8" width="0.9" height="0.9" fill="#9a70ff" opacity="0.9"/>
<rect x="452.9" y="227.1" width="1.1" height="1.1" fill="#9a70ff" opacity="0.9"/>
<rect x="450.4" y="224.7" width="1.5" height="1.5" fill="#8850ff" opacity="0.9"/>
<rect x="450.1" y="235.3" width="0.9" height="0.9" fill="#8850ff" opacity="0.9"/>
<rect x="448.7" y="218.4" width="1.3" height="1.3" fill="#6a2cff" opacity="0.9"/>
<rect x="453.0" y="224.5" width="1.3" height="1.3" fill="#8850ff" opacity="0.9"/>
<rect x="452.5" y="227.1" width="0.9" height="0.9" fill="#8850ff" opacity="0.9"/>
<rect x="456.3" y="226.7" width="1.1" height="1.1" fill="#6a2cff" opacity="0.9"/>
<ellipse cx="377.3" cy="225.9" rx="5.5" ry="4.5" fill="#3a20f0" opacity="0.85" filter="url(#soft)"/>
<ellipse cx="377.3" cy="225.9" rx="3" ry="2.3" fill="#1070f0" filter="url(#soft)"/>
<ellipse cx="377.3" cy="225.9" rx="1.6" ry="1.1" fill="#40e080"/>
<ellipse cx="454.5" cy="229.5" rx="3.2" ry="2.8" fill="#2a10f0" filter="url(#soft)"/>
<ellipse cx="353.5" cy="217.7" rx="11.7" ry="28.4" fill="none" stroke="#b81c1c" stroke-width="1.0"/>
<ellipse cx="378.3" cy="218.3" rx="11.2" ry="28.5" fill="none" stroke="#b81c1c" stroke-width="1.0"/>
<ellipse cx="403.4" cy="218.6" rx="11.5" ry="28.6" fill="none" stroke="#b81c1c" stroke-width="1.0"/>
<ellipse cx="426.8" cy="218.3" rx="11.3" ry="28.4" fill="none" stroke="#b81c1c" stroke-width="1.0"/>
<ellipse cx="451.0" cy="218.0" rx="11.3" ry="28.2" fill="none" stroke="#b81c1c" stroke-width="1.0"/>
<rect x="366.0" y="190.1" width="1.8" height="1.8" fill="#e01010"/>
<rect x="389.6" y="190.1" width="1.8" height="1.8" fill="#e01010"/>
<rect x="366.0" y="245.9" width="1.8" height="1.8" fill="#e01010"/>
<rect x="389.6" y="245.9" width="1.8" height="1.8" fill="#e01010"/>
<rect x="392.0" y="187.6" width="23.0" height="2.2" fill="#f4c8c8"/>
<rect x="336.6" y="253.4" width="131.5" height="59.4" fill="#1e1e1e"/>
<rect x="337.1" y="253.4" width="1.3" height="59.4" fill="#2c2c2c"/>
<rect x="337.1" y="253.9" width="1.4" height="6.6" fill="#555"/>
<rect x="339.7" y="253.4" width="1.3" height="59.4" fill="#242424"/>
<rect x="339.7" y="253.9" width="1.4" height="8.3" fill="#4a4a4a"/>
<rect x="342.3" y="253.4" width="1.3" height="59.4" fill="#242424"/>
<rect x="342.3" y="253.9" width="1.4" height="7.3" fill="#606060"/>
<rect x="344.9" y="253.4" width="1.3" height="59.4" fill="#303030"/>
<rect x="344.9" y="253.9" width="1.4" height="5.1" fill="#555"/>
<rect x="347.5" y="253.4" width="1.3" height="59.4" fill="#222"/>
<rect x="347.5" y="253.9" width="1.4" height="5.3" fill="#3c3c3c"/>
<rect x="350.1" y="253.4" width="1.3" height="59.4" fill="#242424"/>
<rect x="350.1" y="253.9" width="1.4" height="6.7" fill="#6a6a6a"/>
<rect x="352.7" y="253.4" width="1.3" height="59.4" fill="#303030"/>
<rect x="352.7" y="253.9" width="1.4" height="8.8" fill="#4a4a4a"/>
<rect x="355.3" y="253.4" width="1.3" height="59.4" fill="#303030"/>
<rect x="355.3" y="253.9" width="1.4" height="7.3" fill="#4a4a4a"/>
<rect x="357.9" y="253.4" width="1.3" height="59.4" fill="#222"/>
<rect x="357.9" y="253.9" width="1.4" height="8.9" fill="#4a4a4a"/>
<rect x="360.5" y="253.4" width="1.3" height="59.4" fill="#242424"/>
<rect x="360.5" y="253.9" width="1.4" height="8.4" fill="#6a6a6a"/>
<rect x="363.1" y="253.4" width="1.3" height="59.4" fill="#2c2c2c"/>
<rect x="363.1" y="253.9" width="1.4" height="5.6" fill="#3c3c3c"/>
<rect x="365.7" y="253.4" width="1.3" height="59.4" fill="#242424"/>
<rect x="365.7" y="253.9" width="1.4" height="6.2" fill="#6a6a6a"/>
<rect x="368.3" y="253.4" width="1.3" height="59.4" fill="#282828"/>
<rect x="368.3" y="253.9" width="1.4" height="7.3" fill="#4a4a4a"/>
<rect x="370.9" y="253.4" width="1.3" height="59.4" fill="#282828"/>
<rect x="370.9" y="253.9" width="1.4" height="5.4" fill="#606060"/>
<rect x="373.5" y="253.4" width="1.3" height="59.4" fill="#242424"/>
<rect x="373.5" y="253.9" width="1.4" height="5.2" fill="#6a6a6a"/>
<rect x="376.1" y="253.4" width="1.3" height="59.4" fill="#282828"/>
<rect x="376.1" y="253.9" width="1.4" height="7.7" fill="#3c3c3c"/>
<rect x="378.7" y="253.4" width="1.3" height="59.4" fill="#222"/>
<rect x="378.7" y="253.9" width="1.4" height="6.9" fill="#606060"/>
<rect x="381.3" y="253.4" width="1.3" height="59.4" fill="#222"/>
<rect x="381.3" y="253.9" width="1.4" height="6.2" fill="#606060"/>
<rect x="383.9" y="253.4" width="1.3" height="59.4" fill="#282828"/>
<rect x="383.9" y="253.9" width="1.4" height="8.1" fill="#808080"/>
<rect x="386.5" y="253.4" width="1.3" height="59.4" fill="#242424"/>
<rect x="386.5" y="253.9" width="1.4" height="6.2" fill="#6a6a6a"/>
<rect x="389.1" y="253.4" width="1.3" height="59.4" fill="#222"/>
<rect x="389.1" y="253.9" width="1.4" height="7.9" fill="#606060"/>
<rect x="391.7" y="253.4" width="1.3" height="59.4" fill="#2c2c2c"/>
<rect x="391.7" y="253.9" width="1.4" height="8.9" fill="#6a6a6a"/>
<rect x="394.3" y="253.4" width="1.3" height="59.4" fill="#242424"/>
<rect x="394.3" y="253.9" width="1.4" height="6.7" fill="#6a6a6a"/>
<rect x="396.9" y="253.4" width="1.3" height="59.4" fill="#2c2c2c"/>
<rect x="396.9" y="253.9" width="1.4" height="8.7" fill="#555"/>
<rect x="399.5" y="253.4" width="1.3" height="59.4" fill="#222"/>
<rect x="399.5" y="253.9" width="1.4" height="8.8" fill="#4a4a4a"/>
<rect x="402.1" y="253.4" width="1.3" height="59.4" fill="#242424"/>
<rect x="402.1" y="253.9" width="1.4" height="7.3" fill="#6a6a6a"/>
<rect x="404.7" y="253.4" width="1.3" height="59.4" fill="#2c2c2c"/>
<rect x="404.7" y="253.9" width="1.4" height="7.8" fill="#606060"/>
<rect x="407.3" y="253.4" width="1.3" height="59.4" fill="#303030"/>
<rect x="407.3" y="253.9" width="1.4" height="7.3" fill="#3c3c3c"/>
<rect x="409.9" y="253.4" width="1.3" height="59.4" fill="#222"/>
<rect x="409.9" y="253.9" width="1.4" height="8.4" fill="#4a4a4a"/>
<rect x="412.5" y="253.4" width="1.3" height="59.4" fill="#2c2c2c"/>
<rect x="412.5" y="253.9" width="1.4" height="7.8" fill="#3c3c3c"/>
<rect x="415.1" y="253.4" width="1.3" height="59.4" fill="#242424"/>
<rect x="415.1" y="253.9" width="1.4" height="7.9" fill="#4a4a4a"/>
<rect x="417.7" y="253.4" width="1.3" height="59.4" fill="#2c2c2c"/>
<rect x="417.7" y="253.9" width="1.4" height="7.3" fill="#808080"/>
<rect x="420.3" y="253.4" width="1.3" height="59.4" fill="#222"/>
<rect x="420.3" y="253.9" width="1.4" height="7.9" fill="#606060"/>
<rect x="422.9" y="253.4" width="1.3" height="59.4" fill="#2c2c2c"/>
<rect x="422.9" y="253.9" width="1.4" height="8.8" fill="#4a4a4a"/>
<rect x="425.5" y="253.4" width="1.3" height="59.4" fill="#2c2c2c"/>
<rect x="425.5" y="253.9" width="1.4" height="7.4" fill="#555"/>
<rect x="428.1" y="253.4" width="1.3" height="59.4" fill="#222"/>
<rect x="428.1" y="253.9" width="1.4" height="5.9" fill="#4a4a4a"/>
<rect x="430.7" y="253.4" width="1.3" height="59.4" fill="#2c2c2c"/>
<rect x="430.7" y="253.9" width="1.4" height="8.0" fill="#555"/>
<rect x="433.3" y="253.4" width="1.3" height="59.4" fill="#222"/>
<rect x="433.3" y="253.9" width="1.4" height="8.7" fill="#3c3c3c"/>
<rect x="435.9" y="253.4" width="1.3" height="59.4" fill="#222"/>
<rect x="435.9" y="253.9" width="1.4" height="5.7" fill="#4a4a4a"/>
<rect x="438.5" y="253.4" width="1.3" height="59.4" fill="#222"/>
<rect x="438.5" y="253.9" width="1.4" height="6.1" fill="#6a6a6a"/>
<rect x="441.1" y="253.4" width="1.3" height="59.4" fill="#282828"/>
<rect x="441.1" y="253.9" width="1.4" height="8.5" fill="#3c3c3c"/>
<rect x="443.7" y="253.4" width="1.3" height="59.4" fill="#2c2c2c"/>
<rect x="443.7" y="253.9" width="1.4" height="6.7" fill="#808080"/>
<rect x="446.3" y="253.4" width="1.3" height="59.4" fill="#2c2c2c"/>
<rect x="446.3" y="253.9" width="1.4" height="8.5" fill="#808080"/>
<rect x="448.9" y="253.4" width="1.3" height="59.4" fill="#282828"/>
<rect x="448.9" y="253.9" width="1.4" height="5.3" fill="#555"/>
<rect x="451.5" y="253.4" width="1.3" height="59.4" fill="#282828"/>
<rect x="451.5" y="253.9" width="1.4" height="7.6" fill="#555"/>
<rect x="454.1" y="253.4" width="1.3" height="59.4" fill="#242424"/>
<rect x="454.1" y="253.9" width="1.4" height="8.3" fill="#3c3c3c"/>
<rect x="456.7" y="253.4" width="1.3" height="59.4" fill="#282828"/>
<rect x="456.7" y="253.9" width="1.4" height="6.1" fill="#606060"/>
<rect x="459.3" y="253.4" width="1.3" height="59.4" fill="#282828"/>
<rect x="459.3" y="253.9" width="1.4" height="7.1" fill="#3c3c3c"/>
<rect x="461.9" y="253.4" width="1.3" height="59.4" fill="#303030"/>
<rect x="461.9" y="253.9" width="1.4" height="6.3" fill="#6a6a6a"/>
<rect x="464.5" y="253.4" width="1.3" height="59.4" fill="#282828"/>
<rect x="464.5" y="253.9" width="1.4" height="8.4" fill="#808080"/>
<g filter="url(#soft)">
<path d="M344.0,300.0 L340.0,304.0 L337.0,305.5" stroke="#c4c4c4" stroke-width="2.4" fill="none" stroke-linecap="round"/>
<path d="M356.0,300.0 L360.0,304.0 L363.0,305.5" stroke="#c4c4c4" stroke-width="2.4" fill="none" stroke-linecap="round"/>
<path d="M342.0,271.0 L339.5,273.0" stroke="#b4b4b4" stroke-width="2" fill="none" stroke-linecap="round"/>
<path d="M358.0,271.0 L360.5,273.0" stroke="#b4b4b4" stroke-width="2" fill="none" stroke-linecap="round"/>
<path d="M350.0,303.0 L350.3,312.8" stroke="#9a9a9a" stroke-width="1.5" fill="none"/>
<path d="M350.5,255.3 L352.5,256.4 L354.1,258.5 L355.0,261.0 L356.2,263.3 L358.2,264.6 L359.3,266.1 L358.4,267.7 L359.1,269.9 L360.1,273.7 L360.7,279.0 L360.9,285.7 L360.8,291.5 L360.4,296.3 L359.3,299.7 L357.2,302.1 L354.2,303.5 L350.0,304.0 L345.8,303.5 L342.8,302.1 L340.7,299.7 L339.8,296.3 L339.4,291.5 L339.5,285.7 L339.9,279.0 L340.5,273.7 L341.5,269.9 L342.4,267.7 L341.5,266.1 L342.6,264.6 L344.6,263.3 L345.8,261.0 L346.9,258.5 L348.5,256.4 L350.5,255.3 Z" fill="url(#mvert)"/>
<path d="M350.5,255.3 L352.5,256.4 L354.1,258.5 L355.0,261.0 L356.2,263.3 L358.2,264.6 L359.3,266.1 L358.4,267.7 L359.1,269.9 L360.1,273.7 L360.7,279.0 L360.9,285.7 L360.8,291.5 L360.4,296.3 L359.3,299.7 L357.2,302.1 L354.2,303.5 L350.0,304.0 L345.8,303.5 L342.8,302.1 L340.7,299.7 L339.8,296.3 L339.4,291.5 L339.5,285.7 L339.9,279.0 L340.5,273.7 L341.5,269.9 L342.4,267.7 L341.5,266.1 L342.6,264.6 L344.6,263.3 L345.8,261.0 L346.9,258.5 L348.5,256.4 L350.5,255.3 Z" fill="url(#medge)"/>
<ellipse cx="355.4" cy="285.9" rx="2.6" ry="1.7" fill="#9a9a9a" opacity="0.35"/>
<ellipse cx="354.5" cy="296.3" rx="2.5" ry="1.8" fill="#9a9a9a" opacity="0.35"/>
<ellipse cx="348.8" cy="276.8" rx="2.2" ry="1.6" fill="#9a9a9a" opacity="0.35"/>
<ellipse cx="346.3" cy="297.5" rx="2.2" ry="1.2" fill="#9a9a9a" opacity="0.35"/>
<ellipse cx="351.2" cy="266.6" rx="2.4" ry="1.8" fill="#9a9a9a" opacity="0.35"/>
<ellipse cx="355.4" cy="284.5" rx="1.6" ry="1.3" fill="#9a9a9a" opacity="0.35"/>
<ellipse cx="348.5" cy="285.2" rx="2.9" ry="1.9" fill="#9a9a9a" opacity="0.35"/>
<path d="M372.0,299.0 L368.0,303.0 L365.0,304.5" stroke="#c4c4c4" stroke-width="2.4" fill="none" stroke-linecap="round"/>
<path d="M384.0,299.0 L388.0,303.0 L391.0,304.5" stroke="#c4c4c4" stroke-width="2.4" fill="none" stroke-linecap="round"/>
<path d="M370.0,272.0 L367.5,274.0" stroke="#b4b4b4" stroke-width="2" fill="none" stroke-linecap="round"/>
<path d="M386.0,272.0 L388.5,274.0" stroke="#b4b4b4" stroke-width="2" fill="none" stroke-linecap="round"/>
<path d="M378.0,302.0 L378.3,312.8" stroke="#9a9a9a" stroke-width="1.5" fill="none"/>
<path d="M378.0,256.3 L379.9,257.4 L381.4,259.3 L382.4,261.7 L383.5,263.9 L385.4,265.2 L386.5,266.7 L385.6,268.2 L386.4,270.3 L387.3,274.0 L387.9,279.0 L388.2,285.5 L388.2,291.0 L387.8,295.6 L386.8,298.9 L384.8,301.2 L382.0,302.5 L378.0,303.0 L374.0,302.5 L371.2,301.2 L369.2,298.9 L368.2,295.6 L367.8,291.0 L367.8,285.5 L368.1,279.0 L368.7,274.0 L369.6,270.3 L370.4,268.2 L369.5,266.7 L370.6,265.2 L372.5,263.9 L373.6,261.7 L374.6,259.3 L376.1,257.4 L378.0,256.3 Z" fill="url(#mvert)"/>
<path d="M378.0,256.3 L379.9,257.4 L381.4,259.3 L382.4,261.7 L383.5,263.9 L385.4,265.2 L386.5,266.7 L385.6,268.2 L386.4,270.3 L387.3,274.0 L387.9,279.0 L388.2,285.5 L388.2,291.0 L387.8,295.6 L386.8,298.9 L384.8,301.2 L382.0,302.5 L378.0,303.0 L374.0,302.5 L371.2,301.2 L369.2,298.9 L368.2,295.6 L367.8,291.0 L367.8,285.5 L368.1,279.0 L368.7,274.0 L369.6,270.3 L370.4,268.2 L369.5,266.7 L370.6,265.2 L372.5,263.9 L373.6,261.7 L374.6,259.3 L376.1,257.4 L378.0,256.3 Z" fill="url(#medge)"/>
<ellipse cx="377.7" cy="267.8" rx="2.2" ry="2.5" fill="#9a9a9a" opacity="0.35"/>
<ellipse cx="377.8" cy="274.3" rx="1.7" ry="2.1" fill="#9a9a9a" opacity="0.35"/>
<ellipse cx="380.9" cy="279.8" rx="2.5" ry="1.8" fill="#9a9a9a" opacity="0.35"/>
<ellipse cx="374.5" cy="295.4" rx="2.0" ry="2.0" fill="#9a9a9a" opacity="0.35"/>
<ellipse cx="383.0" cy="289.0" rx="1.9" ry="2.0" fill="#9a9a9a" opacity="0.35"/>
<ellipse cx="373.1" cy="291.9" rx="2.3" ry="2.4" fill="#9a9a9a" opacity="0.35"/>
<ellipse cx="376.3" cy="271.4" rx="2.3" ry="1.8" fill="#9a9a9a" opacity="0.35"/>
<path d="M399.5,303.0 L395.5,307.0 L392.5,308.5" stroke="#c4c4c4" stroke-width="2.4" fill="none" stroke-linecap="round"/>
<path d="M411.5,303.0 L415.5,307.0 L418.5,308.5" stroke="#c4c4c4" stroke-width="2.4" fill="none" stroke-linecap="round"/>
<path d="M397.5,274.0 L395.0,276.0" stroke="#b4b4b4" stroke-width="2" fill="none" stroke-linecap="round"/>
<path d="M413.5,274.0 L416.0,276.0" stroke="#b4b4b4" stroke-width="2" fill="none" stroke-linecap="round"/>
<path d="M405.5,306.0 L405.8,312.8" stroke="#9a9a9a" stroke-width="1.5" fill="none"/>
<path d="M405.5,258.3 L407.5,259.4 L409.1,261.5 L410.1,264.0 L411.3,266.3 L413.3,267.6 L414.4,269.1 L413.5,270.7 L414.3,272.9 L415.3,276.7 L415.9,282.0 L416.2,288.7 L416.2,294.5 L415.8,299.3 L414.8,302.7 L412.7,305.1 L409.7,306.5 L405.5,307.0 L401.3,306.5 L398.3,305.1 L396.2,302.7 L395.2,299.3 L394.8,294.5 L394.8,288.7 L395.1,282.0 L395.7,276.7 L396.7,272.9 L397.5,270.7 L396.6,269.1 L397.7,267.6 L399.7,266.3 L400.9,264.0 L401.9,261.5 L403.5,259.4 L405.5,258.3 Z" fill="url(#mvert)"/>
<path d="M405.5,258.3 L407.5,259.4 L409.1,261.5 L410.1,264.0 L411.3,266.3 L413.3,267.6 L414.4,269.1 L413.5,270.7 L414.3,272.9 L415.3,276.7 L415.9,282.0 L416.2,288.7 L416.2,294.5 L415.8,299.3 L414.8,302.7 L412.7,305.1 L409.7,306.5 L405.5,307.0 L401.3,306.5 L398.3,305.1 L396.2,302.7 L395.2,299.3 L394.8,294.5 L394.8,288.7 L395.1,282.0 L395.7,276.7 L396.7,272.9 L397.5,270.7 L396.6,269.1 L397.7,267.6 L399.7,266.3 L400.9,264.0 L401.9,261.5 L403.5,259.4 L405.5,258.3 Z" fill="url(#medge)"/>
<ellipse cx="407.1" cy="287.5" rx="2.7" ry="2.1" fill="#9a9a9a" opacity="0.35"/>
<ellipse cx="401.8" cy="274.4" rx="2.1" ry="2.2" fill="#9a9a9a" opacity="0.35"/>
<ellipse cx="401.9" cy="283.2" rx="2.6" ry="2.5" fill="#9a9a9a" opacity="0.35"/>
<ellipse cx="409.0" cy="282.5" rx="1.8" ry="1.9" fill="#9a9a9a" opacity="0.35"/>
<ellipse cx="403.6" cy="294.3" rx="2.6" ry="1.5" fill="#9a9a9a" opacity="0.35"/>
<ellipse cx="411.2" cy="268.8" rx="1.7" ry="1.7" fill="#9a9a9a" opacity="0.35"/>
<ellipse cx="403.6" cy="282.9" rx="3.0" ry="1.9" fill="#9a9a9a" opacity="0.35"/>
<path d="M423.5,302.0 L419.5,306.0 L416.5,307.5" stroke="#c4c4c4" stroke-width="2.4" fill="none" stroke-linecap="round"/>
<path d="M435.5,302.0 L439.5,306.0 L442.5,307.5" stroke="#c4c4c4" stroke-width="2.4" fill="none" stroke-linecap="round"/>
<path d="M421.5,273.0 L419.0,275.0" stroke="#b4b4b4" stroke-width="2" fill="none" stroke-linecap="round"/>
<path d="M437.5,273.0 L440.0,275.0" stroke="#b4b4b4" stroke-width="2" fill="none" stroke-linecap="round"/>
<path d="M429.5,305.0 L429.8,312.8" stroke="#9a9a9a" stroke-width="1.5" fill="none"/>
<path d="M429.5,257.3 L431.5,258.4 L433.1,260.5 L434.1,263.0 L435.3,265.3 L437.3,266.6 L438.4,268.1 L437.5,269.7 L438.3,271.9 L439.3,275.7 L439.9,281.0 L440.2,287.7 L440.2,293.5 L439.8,298.3 L438.8,301.7 L436.7,304.1 L433.7,305.5 L429.5,306.0 L425.3,305.5 L422.3,304.1 L420.2,301.7 L419.2,298.3 L418.8,293.5 L418.8,287.7 L419.1,281.0 L419.7,275.7 L420.7,271.9 L421.5,269.7 L420.6,268.1 L421.7,266.6 L423.7,265.3 L424.9,263.0 L425.9,260.5 L427.5,258.4 L429.5,257.3 Z" fill="url(#mvert)"/>
<path d="M429.5,257.3 L431.5,258.4 L433.1,260.5 L434.1,263.0 L435.3,265.3 L437.3,266.6 L438.4,268.1 L437.5,269.7 L438.3,271.9 L439.3,275.7 L439.9,281.0 L440.2,287.7 L440.2,293.5 L439.8,298.3 L438.8,301.7 L436.7,304.1 L433.7,305.5 L429.5,306.0 L425.3,305.5 L422.3,304.1 L420.2,301.7 L419.2,298.3 L418.8,293.5 L418.8,287.7 L419.1,281.0 L419.7,275.7 L420.7,271.9 L421.5,269.7 L420.6,268.1 L421.7,266.6 L423.7,265.3 L424.9,263.0 L425.9,260.5 L427.5,258.4 L429.5,257.3 Z" fill="url(#medge)"/>
<ellipse cx="423.5" cy="296.8" rx="2.0" ry="2.0" fill="#9a9a9a" opacity="0.35"/>
<ellipse cx="433.5" cy="269.2" rx="2.1" ry="2.1" fill="#9a9a9a" opacity="0.35"/>
<ellipse cx="425.9" cy="296.1" rx="2.2" ry="2.0" fill="#9a9a9a" opacity="0.35"/>
<ellipse cx="424.5" cy="298.1" rx="2.6" ry="1.7" fill="#9a9a9a" opacity="0.35"/>
<ellipse cx="432.4" cy="268.0" rx="1.7" ry="2.5" fill="#9a9a9a" opacity="0.35"/>
<ellipse cx="423.8" cy="285.7" rx="2.2" ry="2.0" fill="#9a9a9a" opacity="0.35"/>
<ellipse cx="430.8" cy="285.9" rx="2.2" ry="2.4" fill="#9a9a9a" opacity="0.35"/>
<path d="M447.5,301.0 L443.5,305.0 L440.5,306.5" stroke="#c4c4c4" stroke-width="2.4" fill="none" stroke-linecap="round"/>
<path d="M459.5,301.0 L463.5,305.0 L466.5,306.5" stroke="#c4c4c4" stroke-width="2.4" fill="none" stroke-linecap="round"/>
<path d="M445.5,274.0 L443.0,276.0" stroke="#b4b4b4" stroke-width="2" fill="none" stroke-linecap="round"/>
<path d="M461.5,274.0 L464.0,276.0" stroke="#b4b4b4" stroke-width="2" fill="none" stroke-linecap="round"/>
<path d="M453.5,304.0 L453.8,312.8" stroke="#9a9a9a" stroke-width="1.5" fill="none"/>
<path d="M453.0,258.3 L454.9,259.4 L456.5,261.3 L457.4,263.7 L458.6,265.9 L460.5,267.2 L461.6,268.7 L460.7,270.2 L461.5,272.3 L462.5,276.0 L463.1,281.0 L463.5,287.5 L463.5,293.0 L463.2,297.6 L462.3,300.9 L460.3,303.2 L457.5,304.5 L453.5,305.0 L449.5,304.5 L446.6,303.2 L444.6,300.9 L443.6,297.6 L443.2,293.0 L443.1,287.5 L443.4,281.0 L443.9,276.0 L444.8,272.3 L445.5,270.2 L444.7,268.7 L445.7,267.2 L447.6,265.9 L448.7,263.7 L449.6,261.3 L451.1,259.4 L453.0,258.3 Z" fill="url(#mvert)"/>
<path d="M453.0,258.3 L454.9,259.4 L456.5,261.3 L457.4,263.7 L458.6,265.9 L460.5,267.2 L461.6,268.7 L460.7,270.2 L461.5,272.3 L462.5,276.0 L463.1,281.0 L463.5,287.5 L463.5,293.0 L463.2,297.6 L462.3,300.9 L460.3,303.2 L457.5,304.5 L453.5,305.0 L449.5,304.5 L446.6,303.2 L444.6,300.9 L443.6,297.6 L443.2,293.0 L443.1,287.5 L443.4,281.0 L443.9,276.0 L444.8,272.3 L445.5,270.2 L444.7,268.7 L445.7,267.2 L447.6,265.9 L448.7,263.7 L449.6,261.3 L451.1,259.4 L453.0,258.3 Z" fill="url(#medge)"/>
<ellipse cx="449.4" cy="284.1" rx="1.5" ry="2.2" fill="#9a9a9a" opacity="0.35"/>
<ellipse cx="456.2" cy="269.4" rx="2.6" ry="1.2" fill="#9a9a9a" opacity="0.35"/>
<ellipse cx="459.3" cy="272.4" rx="2.8" ry="1.0" fill="#9a9a9a" opacity="0.35"/>
<ellipse cx="450.1" cy="282.5" rx="2.6" ry="1.5" fill="#9a9a9a" opacity="0.35"/>
<ellipse cx="454.0" cy="293.5" rx="1.6" ry="2.1" fill="#9a9a9a" opacity="0.35"/>
<ellipse cx="458.3" cy="287.9" rx="2.7" ry="1.8" fill="#9a9a9a" opacity="0.35"/>
<ellipse cx="457.4" cy="295.0" rx="1.7" ry="1.2" fill="#9a9a9a" opacity="0.35"/>
</g>
<rect x="351.0" y="275.5" width="1.1" height="1.1" fill="#5a1ee8" opacity="0.9"/>
<rect x="353.9" y="292.6" width="0.9" height="0.9" fill="#6a2cff" opacity="0.9"/>
<rect x="347.5" y="292.5" width="1.5" height="1.5" fill="#8850ff" opacity="0.9"/>
<rect x="350.5" y="281.8" width="0.9" height="0.9" fill="#8850ff" opacity="0.9"/>
<rect x="350.0" y="290.6" width="1.5" height="1.5" fill="#6a2cff" opacity="0.9"/>
<rect x="343.0" y="280.5" width="1.5" height="1.5" fill="#6a2cff" opacity="0.9"/>
<rect x="347.6" y="282.1" width="1.5" height="1.5" fill="#7b3cff" opacity="0.9"/>
<rect x="341.8" y="284.3" width="1.1" height="1.1" fill="#8850ff" opacity="0.9"/>
<rect x="347.1" y="271.4" width="1.1" height="1.1" fill="#7b3cff" opacity="0.9"/>
<rect x="351.3" y="281.8" width="1.5" height="1.5" fill="#6a2cff" opacity="0.9"/>
<rect x="348.4" y="286.0" width="1.5" height="1.5" fill="#5a1ee8" opacity="0.9"/>
<rect x="356.0" y="289.6" width="1.1" height="1.1" fill="#6a2cff" opacity="0.9"/>
<rect x="356.0" y="281.3" width="1.1" height="1.1" fill="#7b3cff" opacity="0.9"/>
<rect x="350.0" y="288.8" width="1.1" height="1.1" fill="#4a18d8" opacity="0.9"/>
<rect x="350.0" y="281.9" width="1.1" height="1.1" fill="#4a18d8" opacity="0.9"/>
<rect x="358.5" y="284.2" width="1.5" height="1.5" fill="#5a1ee8" opacity="0.9"/>
<rect x="354.6" y="284.7" width="1.1" height="1.1" fill="#4a18d8" opacity="0.9"/>
<rect x="348.8" y="287.4" width="0.9" height="0.9" fill="#7b3cff" opacity="0.9"/>
<rect x="347.4" y="291.6" width="0.9" height="0.9" fill="#9a70ff" opacity="0.9"/>
<rect x="345.9" y="290.6" width="0.9" height="0.9" fill="#7b3cff" opacity="0.9"/>
<rect x="357.6" y="295.2" width="0.9" height="0.9" fill="#5a1ee8" opacity="0.9"/>
<rect x="353.1" y="287.8" width="1.3" height="1.3" fill="#5a1ee8" opacity="0.9"/>
<rect x="350.3" y="272.0" width="1.3" height="1.3" fill="#9a70ff" opacity="0.9"/>
<rect x="345.4" y="289.8" width="1.5" height="1.5" fill="#8850ff" opacity="0.9"/>
<rect x="378.4" y="281.9" width="1.1" height="1.1" fill="#6a2cff" opacity="0.9"/>
<rect x="377.4" y="286.3" width="0.9" height="0.9" fill="#6a2cff" opacity="0.9"/>
<rect x="379.6" y="282.0" width="0.9" height="0.9" fill="#5a1ee8" opacity="0.9"/>
<rect x="378.8" y="288.8" width="1.3" height="1.3" fill="#6a2cff" opacity="0.9"/>
<rect x="383.7" y="284.7" width="1.1" height="1.1" fill="#7b3cff" opacity="0.9"/>
<rect x="385.8" y="288.2" width="1.1" height="1.1" fill="#6a2cff" opacity="0.9"/>
<rect x="378.8" y="289.7" width="1.3" height="1.3" fill="#7b3cff" opacity="0.9"/>
<rect x="376.0" y="284.0" width="1.1" height="1.1" fill="#4a18d8" opacity="0.9"/>
<rect x="378.0" y="298.4" width="0.9" height="0.9" fill="#7b3cff" opacity="0.9"/>
<rect x="386.3" y="286.2" width="1.1" height="1.1" fill="#8850ff" opacity="0.9"/>
<rect x="375.6" y="284.5" width="0.9" height="0.9" fill="#4a18d8" opacity="0.9"/>
<rect x="375.4" y="275.9" width="1.5" height="1.5" fill="#9a70ff" opacity="0.9"/>
<rect x="370.0" y="280.5" width="1.3" height="1.3" fill="#8850ff" opacity="0.9"/>
<rect x="374.1" y="265.3" width="1.1" height="1.1" fill="#7b3cff" opacity="0.9"/>
<rect x="382.5" y="274.8" width="1.1" height="1.1" fill="#9a70ff" opacity="0.9"/>
<rect x="375.6" y="288.9" width="1.1" height="1.1" fill="#6a2cff" opacity="0.9"/>
<rect x="385.3" y="285.9" width="1.5" height="1.5" fill="#7b3cff" opacity="0.9"/>
<rect x="380.0" y="287.7" width="1.3" height="1.3" fill="#4a18d8" opacity="0.9"/>
<rect x="373.4" y="278.3" width="1.5" height="1.5" fill="#6a2cff" opacity="0.9"/>
<rect x="380.4" y="290.5" width="1.3" height="1.3" fill="#6a2cff" opacity="0.9"/>
<rect x="376.4" y="290.0" width="1.3" height="1.3" fill="#8850ff" opacity="0.9"/>
<rect x="377.5" y="291.6" width="1.3" height="1.3" fill="#6a2cff" opacity="0.9"/>
<rect x="375.2" y="290.8" width="1.1" height="1.1" fill="#8850ff" opacity="0.9"/>
<rect x="379.1" y="298.0" width="1.3" height="1.3" fill="#6a2cff" opacity="0.9"/>
<rect x="380.0" y="281.2" width="0.9" height="0.9" fill="#8850ff" opacity="0.9"/>
<rect x="376.0" y="288.9" width="1.1" height="1.1" fill="#9a70ff" opacity="0.9"/>
<rect x="380.6" y="281.5" width="1.5" height="1.5" fill="#9a70ff" opacity="0.9"/>
<rect x="379.6" y="273.1" width="1.1" height="1.1" fill="#4a18d8" opacity="0.9"/>
<rect x="377.7" y="295.2" width="0.9" height="0.9" fill="#5a1ee8" opacity="0.9"/>
<rect x="382.2" y="274.4" width="1.5" height="1.5" fill="#8850ff" opacity="0.9"/>
<rect x="378.2" y="271.4" width="0.9" height="0.9" fill="#5a1ee8" opacity="0.9"/>
<rect x="381.8" y="276.2" width="1.1" height="1.1" fill="#9a70ff" opacity="0.9"/>
<rect x="380.1" y="286.1" width="1.3" height="1.3" fill="#9a70ff" opacity="0.9"/>
<rect x="383.2" y="283.2" width="0.9" height="0.9" fill="#4a18d8" opacity="0.9"/>
<rect x="374.6" y="277.4" width="1.1" height="1.1" fill="#9a70ff" opacity="0.9"/>
<rect x="405.6" y="289.0" width="0.9" height="0.9" fill="#6a2cff" opacity="0.9"/>
<rect x="405.0" y="286.5" width="1.5" height="1.5" fill="#9a70ff" opacity="0.9"/>
<rect x="406.0" y="292.1" width="1.1" height="1.1" fill="#7b3cff" opacity="0.9"/>
<rect x="405.6" y="283.6" width="1.5" height="1.5" fill="#9a70ff" opacity="0.9"/>
<rect x="401.1" y="289.3" width="1.3" height="1.3" fill="#4a18d8" opacity="0.9"/>
<rect x="406.7" y="278.0" width="1.1" height="1.1" fill="#9a70ff" opacity="0.9"/>
<rect x="408.5" y="291.1" width="1.3" height="1.3" fill="#7b3cff" opacity="0.9"/>
<rect x="404.1" y="286.0" width="0.9" height="0.9" fill="#4a18d8" opacity="0.9"/>
<rect x="408.8" y="292.3" width="1.3" height="1.3" fill="#4a18d8" opacity="0.9"/>
<rect x="405.0" y="282.7" width="1.5" height="1.5" fill="#4a18d8" opacity="0.9"/>
<rect x="407.7" y="263.8" width="1.1" height="1.1" fill="#8850ff" opacity="0.9"/>
<rect x="405.2" y="292.1" width="0.9" height="0.9" fill="#4a18d8" opacity="0.9"/>
<rect x="405.5" y="292.1" width="1.5" height="1.5" fill="#8850ff" opacity="0.9"/>
<rect x="410.9" y="288.7" width="0.9" height="0.9" fill="#5a1ee8" opacity="0.9"/>
<rect x="403.6" y="286.8" width="1.3" height="1.3" fill="#8850ff" opacity="0.9"/>
<rect x="408.6" y="287.8" width="1.3" height="1.3" fill="#9a70ff" opacity="0.9"/>
<rect x="411.9" y="280.9" width="1.5" height="1.5" fill="#5a1ee8" opacity="0.9"/>
<rect x="410.6" y="283.5" width="1.1" height="1.1" fill="#6a2cff" opacity="0.9"/>
<rect x="411.8" y="289.2" width="1.5" height="1.5" fill="#4a18d8" opacity="0.9"/>
<rect x="405.1" y="293.2" width="1.5" height="1.5" fill="#7b3cff" opacity="0.9"/>
<rect x="402.1" y="303.0" width="1.3" height="1.3" fill="#6a2cff" opacity="0.9"/>
<rect x="406.0" y="273.7" width="1.1" height="1.1" fill="#6a2cff" opacity="0.9"/>
<rect x="403.5" y="272.2" width="1.3" height="1.3" fill="#7b3cff" opacity="0.9"/>
<rect x="402.5" y="294.7" width="0.9" height="0.9" fill="#8850ff" opacity="0.9"/>
<rect x="402.6" y="295.5" width="0.9" height="0.9" fill="#7b3cff" opacity="0.9"/>
<rect x="405.7" y="291.6" width="1.3" height="1.3" fill="#9a70ff" opacity="0.9"/>
<rect x="404.1" y="285.6" width="1.5" height="1.5" fill="#7b3cff" opacity="0.9"/>
<rect x="402.8" y="288.6" width="1.5" height="1.5" fill="#7b3cff" opacity="0.9"/>
<rect x="412.8" y="279.3" width="1.5" height="1.5" fill="#9a70ff" opacity="0.9"/>
<rect x="398.4" y="285.1" width="1.5" height="1.5" fill="#6a2cff" opacity="0.9"/>
<rect x="398.0" y="293.1" width="1.3" height="1.3" fill="#9a70ff" opacity="0.9"/>
<rect x="403.1" y="287.5" width="1.3" height="1.3" fill="#4a18d8" opacity="0.9"/>
<rect x="405.2" y="295.0" width="1.3" height="1.3" fill="#9a70ff" opacity="0.9"/>
<rect x="402.9" y="292.3" width="1.5" height="1.5" fill="#4a18d8" opacity="0.9"/>
<rect x="434.0" y="290.3" width="1.1" height="1.1" fill="#6a2cff" opacity="0.9"/>
<rect x="424.0" y="279.1" width="1.5" height="1.5" fill="#7b3cff" opacity="0.9"/>
<rect x="423.6" y="286.7" width="0.9" height="0.9" fill="#5a1ee8" opacity="0.9"/>
<rect x="431.8" y="291.6" width="1.1" height="1.1" fill="#7b3cff" opacity="0.9"/>
<rect x="423.1" y="293.4" width="0.9" height="0.9" fill="#5a1ee8" opacity="0.9"/>
<rect x="429.0" y="273.2" width="1.1" height="1.1" fill="#4a18d8" opacity="0.9"/>
<rect x="425.9" y="287.4" width="1.5" height="1.5" fill="#6a2cff" opacity="0.9"/>
<rect x="433.0" y="289.2" width="1.1" height="1.1" fill="#9a70ff" opacity="0.9"/>
<rect x="437.5" y="292.0" width="1.5" height="1.5" fill="#4a18d8" opacity="0.9"/>
<rect x="425.9" y="274.8" width="0.9" height="0.9" fill="#7b3cff" opacity="0.9"/>
<rect x="432.5" y="288.4" width="1.5" height="1.5" fill="#4a18d8" opacity="0.9"/>
<rect x="433.8" y="282.0" width="1.5" height="1.5" fill="#8850ff" opacity="0.9"/>
<rect x="432.6" y="280.9" width="1.1" height="1.1" fill="#6a2cff" opacity="0.9"/>
<rect x="432.3" y="290.5" width="0.9" height="0.9" fill="#9a70ff" opacity="0.9"/>
<rect x="436.2" y="277.1" width="1.5" height="1.5" fill="#9a70ff" opacity="0.9"/>
<rect x="436.2" y="289.5" width="1.1" height="1.1" fill="#6a2cff" opacity="0.9"/>
<rect x="430.2" y="301.0" width="1.3" height="1.3" fill="#9a70ff" opacity="0.9"/>
<rect x="435.5" y="279.2" width="1.5" height="1.5" fill="#8850ff" opacity="0.9"/>
<rect x="428.3" y="278.1" width="1.3" height="1.3" fill="#6a2cff" opacity="0.9"/>
<rect x="422.7" y="280.3" width="1.3" height="1.3" fill="#4a18d8" opacity="0.9"/>
<rect x="430.1" y="293.4" width="1.3" height="1.3" fill="#6a2cff" opacity="0.9"/>
<rect x="432.9" y="281.8" width="1.1" height="1.1" fill="#7b3cff" opacity="0.9"/>
<rect x="425.5" y="283.0" width="0.9" height="0.9" fill="#5a1ee8" opacity="0.9"/>
<rect x="436.3" y="278.7" width="0.9" height="0.9" fill="#7b3cff" opacity="0.9"/>
<rect x="434.6" y="283.4" width="1.5" height="1.5" fill="#9a70ff" opacity="0.9"/>
<rect x="432.0" y="285.0" width="1.3" height="1.3" fill="#4a18d8" opacity="0.9"/>
<rect x="429.2" y="284.2" width="1.5" height="1.5" fill="#7b3cff" opacity="0.9"/>
<rect x="425.9" y="288.5" width="1.3" height="1.3" fill="#6a2cff" opacity="0.9"/>
<rect x="428.6" y="271.9" width="1.5" height="1.5" fill="#5a1ee8" opacity="0.9"/>
<rect x="433.1" y="280.6" width="1.1" height="1.1" fill="#5a1ee8" opacity="0.9"/>
<rect x="425.3" y="283.5" width="0.9" height="0.9" fill="#7b3cff" opacity="0.9"/>
<rect x="434.4" y="279.0" width="1.1" height="1.1" fill="#5a1ee8" opacity="0.9"/>
<rect x="435.1" y="286.0" width="0.9" height="0.9" fill="#4a18d8" opacity="0.9"/>
<rect x="430.0" y="284.2" width="1.1" height="1.1" fill="#6a2cff" opacity="0.9"/>
<rect x="421.0" y="293.3" width="0.9" height="0.9" fill="#7b3cff" opacity="0.9"/>
<rect x="427.5" y="286.8" width="1.5" height="1.5" fill="#8850ff" opacity="0.9"/>
<rect x="436.0" y="284.5" width="1.3" height="1.3" fill="#4a18d8" opacity="0.9"/>
<rect x="434.2" y="281.1" width="0.9" height="0.9" fill="#6a2cff" opacity="0.9"/>
<rect x="430.7" y="283.6" width="0.9" height="0.9" fill="#4a18d8" opacity="0.9"/>
<rect x="421.5" y="276.6" width="1.3" height="1.3" fill="#4a18d8" opacity="0.9"/>
<rect x="429.5" y="274.7" width="0.9" height="0.9" fill="#4a18d8" opacity="0.9"/>
<rect x="434.2" y="284.9" width="1.5" height="1.5" fill="#7b3cff" opacity="0.9"/>
<rect x="430.6" y="289.6" width="0.9" height="0.9" fill="#4a18d8" opacity="0.9"/>
<rect x="426.5" y="277.3" width="1.5" height="1.5" fill="#9a70ff" opacity="0.9"/>
<rect x="430.2" y="282.6" width="0.9" height="0.9" fill="#6a2cff" opacity="0.9"/>
<rect x="428.6" y="296.1" width="1.3" height="1.3" fill="#8850ff" opacity="0.9"/>
<rect x="426.2" y="287.8" width="0.9" height="0.9" fill="#8850ff" opacity="0.9"/>
<rect x="428.4" y="295.5" width="1.3" height="1.3" fill="#7b3cff" opacity="0.9"/>
<rect x="426.7" y="295.0" width="0.9" height="0.9" fill="#8850ff" opacity="0.9"/>
<rect x="432.5" y="282.9" width="1.5" height="1.5" fill="#4a18d8" opacity="0.9"/>
<rect x="433.5" y="279.6" width="1.5" height="1.5" fill="#7b3cff" opacity="0.9"/>
<rect x="430.0" y="277.8" width="1.1" height="1.1" fill="#4a18d8" opacity="0.9"/>
<rect x="426.6" y="294.3" width="1.1" height="1.1" fill="#5a1ee8" opacity="0.9"/>
<rect x="427.0" y="288.6" width="0.9" height="0.9" fill="#7b3cff" opacity="0.9"/>
<rect x="424.2" y="281.4" width="1.1" height="1.1" fill="#5a1ee8" opacity="0.9"/>
<rect x="423.2" y="288.7" width="1.3" height="1.3" fill="#4a18d8" opacity="0.9"/>
<rect x="431.7" y="289.6" width="0.9" height="0.9" fill="#6a2cff" opacity="0.9"/>
<rect x="428.8" y="285.5" width="1.5" height="1.5" fill="#6a2cff" opacity="0.9"/>
<rect x="421.5" y="282.1" width="1.1" height="1.1" fill="#4a18d8" opacity="0.9"/>
<rect x="429.5" y="290.8" width="1.1" height="1.1" fill="#8850ff" opacity="0.9"/>
<rect x="428.9" y="265.5" width="0.9" height="0.9" fill="#9a70ff" opacity="0.9"/>
<rect x="429.7" y="275.0" width="1.3" height="1.3" fill="#7b3cff" opacity="0.9"/>
<rect x="423.5" y="292.0" width="1.5" height="1.5" fill="#5a1ee8" opacity="0.9"/>
<rect x="429.1" y="288.4" width="1.3" height="1.3" fill="#5a1ee8" opacity="0.9"/>
<rect x="433.7" y="274.6" width="0.9" height="0.9" fill="#7b3cff" opacity="0.9"/>
<rect x="425.5" y="281.7" width="1.5" height="1.5" fill="#6a2cff" opacity="0.9"/>
<rect x="431.2" y="281.8" width="1.1" height="1.1" fill="#4a18d8" opacity="0.9"/>
<rect x="434.7" y="266.1" width="1.3" height="1.3" fill="#6a2cff" opacity="0.9"/>
<rect x="453.2" y="289.2" width="1.1" height="1.1" fill="#8850ff" opacity="0.9"/>
<rect x="456.9" y="284.1" width="1.5" height="1.5" fill="#5a1ee8" opacity="0.9"/>
<rect x="446.8" y="279.7" width="0.9" height="0.9" fill="#9a70ff" opacity="0.9"/>
<rect x="457.8" y="292.8" width="1.3" height="1.3" fill="#8850ff" opacity="0.9"/>
<rect x="453.9" y="293.6" width="0.9" height="0.9" fill="#5a1ee8" opacity="0.9"/>
<rect x="454.0" y="292.1" width="1.1" height="1.1" fill="#8850ff" opacity="0.9"/>
<rect x="456.3" y="275.1" width="1.3" height="1.3" fill="#4a18d8" opacity="0.9"/>
<rect x="454.5" y="292.6" width="0.9" height="0.9" fill="#5a1ee8" opacity="0.9"/>
<rect x="454.6" y="278.5" width="1.5" height="1.5" fill="#6a2cff" opacity="0.9"/>
<rect x="456.6" y="291.2" width="1.1" height="1.1" fill="#8850ff" opacity="0.9"/>
<rect x="451.7" y="284.7" width="1.5" height="1.5" fill="#5a1ee8" opacity="0.9"/>
<rect x="451.4" y="280.2" width="1.3" height="1.3" fill="#7b3cff" opacity="0.9"/>
<rect x="451.7" y="288.1" width="1.3" height="1.3" fill="#9a70ff" opacity="0.9"/>
<rect x="452.3" y="287.7" width="1.1" height="1.1" fill="#7b3cff" opacity="0.9"/>
<rect x="449.5" y="291.5" width="1.5" height="1.5" fill="#6a2cff" opacity="0.9"/>
<rect x="456.9" y="282.7" width="1.5" height="1.5" fill="#6a2cff" opacity="0.9"/>
<rect x="449.2" y="283.9" width="1.1" height="1.1" fill="#5a1ee8" opacity="0.9"/>
<rect x="458.7" y="287.8" width="1.5" height="1.5" fill="#9a70ff" opacity="0.9"/>
<rect x="458.3" y="292.2" width="1.1" height="1.1" fill="#7b3cff" opacity="0.9"/>
<rect x="455.2" y="291.5" width="1.1" height="1.1" fill="#8850ff" opacity="0.9"/>
<rect x="454.9" y="285.5" width="1.1" height="1.1" fill="#4a18d8" opacity="0.9"/>
<rect x="450.3" y="299.6" width="1.5" height="1.5" fill="#6a2cff" opacity="0.9"/>
<rect x="450.6" y="295.8" width="1.5" height="1.5" fill="#9a70ff" opacity="0.9"/>
<rect x="459.1" y="292.7" width="1.1" height="1.1" fill="#9a70ff" opacity="0.9"/>
<rect x="447.4" y="276.4" width="1.5" height="1.5" fill="#8850ff" opacity="0.9"/>
<rect x="450.8" y="283.9" width="1.1" height="1.1" fill="#4a18d8" opacity="0.9"/>
<rect x="451.8" y="286.2" width="1.1" height="1.1" fill="#8850ff" opacity="0.9"/>
<rect x="451.3" y="289.4" width="1.1" height="1.1" fill="#5a1ee8" opacity="0.9"/>
<rect x="458.6" y="289.3" width="0.9" height="0.9" fill="#9a70ff" opacity="0.9"/>
<rect x="451.0" y="281.6" width="1.5" height="1.5" fill="#4a18d8" opacity="0.9"/>
<ellipse cx="351.6" cy="280.4" rx="11.7" ry="25.0" fill="none" stroke="#b81c1c" stroke-width="1.0"/>
<ellipse cx="379.0" cy="279.0" rx="11.3" ry="23.5" fill="none" stroke="#b81c1c" stroke-width="1.0"/>
<ellipse cx="406.4" cy="283.5" rx="11.5" ry="24.5" fill="none" stroke="#b81c1c" stroke-width="1.0"/>
<ellipse cx="429.4" cy="281.4" rx="11.5" ry="25.0" fill="none" stroke="#b81c1c" stroke-width="1.0"/>
<ellipse cx="454.0" cy="281.6" rx="11.2" ry="23.8" fill="none" stroke="#b81c1c" stroke-width="1.0"/>
<rect x="366.6" y="253.7" width="1.8" height="1.8" fill="#e01010"/>
<rect x="391.1" y="253.7" width="1.8" height="1.8" fill="#e01010"/>
<rect x="366.6" y="302.4" width="1.8" height="1.8" fill="#e01010"/>
<rect x="391.1" y="303.0" width="1.8" height="1.8" fill="#e01010"/>
<rect x="340.0" y="253.4" width="21.7" height="2.2" fill="#f4c8c8"/>
<rect x="394.8" y="253.4" width="23.1" height="2.2" fill="#f4c8c8"/>
<rect x="443.8" y="253.4" width="21.6" height="2.2" fill="#f4c8c8"/>
<text x="0" y="0" transform="translate(471.70,209.20) scale(0.885,1)" font-size="9.0" text-anchor="start" font-weight="normal" fill="#1a1a1a" stroke="#1a1a1a" stroke-width="0.1">IDOL.tg</text>
<text x="0" y="0" transform="translate(471.70,218.80) scale(0.885,1)" font-size="9.0" text-anchor="start" font-weight="normal" fill="#1a1a1a" stroke="#1a1a1a" stroke-width="0.1">MDSC-IL13</text>
<text x="0" y="0" transform="translate(471.70,272.90) scale(0.885,1)" font-size="9.0" text-anchor="start" font-weight="normal" fill="#1a1a1a" stroke="#1a1a1a" stroke-width="0.1">IDOL.tg</text>
<text x="0" y="0" transform="translate(471.70,282.50) scale(0.885,1)" font-size="9.0" text-anchor="start" font-weight="normal" fill="#1a1a1a" stroke="#1a1a1a" stroke-width="0.1">MDSC-IL13</text>
<text x="0" y="0" transform="translate(471.70,292.40) scale(0.885,1)" font-size="9.0" text-anchor="start" font-weight="normal" fill="#1a1a1a" stroke="#1a1a1a" stroke-width="0.1">+ apyrase</text>
<text x="0" y="0" transform="translate(268.80,351.50) scale(0.92,1)" font-size="11.6" text-anchor="start" font-weight="bold" fill="#000" stroke="#000" stroke-width="0.3">F</text>
<line x1="314.00" y1="377.50" x2="314.00" y2="460.10" stroke="#000" stroke-width="1.3" />
<line x1="310.80" y1="460.10" x2="314.00" y2="460.10" stroke="#111" stroke-width="1.0" />
<text x="0" y="0" transform="translate(308.40,463.00) scale(0.8,1)" font-size="9.8" text-anchor="end" font-weight="normal" fill="#1a1a1a" stroke="#1a1a1a" stroke-width="0.1">0</text>
<line x1="310.80" y1="435.00" x2="314.00" y2="435.00" stroke="#111" stroke-width="1.0" />
<text x="0" y="0" transform="translate(308.40,437.90) scale(0.8,1)" font-size="9.8" text-anchor="end" font-weight="normal" fill="#1a1a1a" stroke="#1a1a1a" stroke-width="0.1">200000</text>
<line x1="310.80" y1="409.90" x2="314.00" y2="409.90" stroke="#111" stroke-width="1.0" />
<text x="0" y="0" transform="translate(308.40,412.80) scale(0.8,1)" font-size="9.8" text-anchor="end" font-weight="normal" fill="#1a1a1a" stroke="#1a1a1a" stroke-width="0.1">400000</text>
<line x1="310.80" y1="384.80" x2="314.00" y2="384.80" stroke="#111" stroke-width="1.0" />
<text x="0" y="0" transform="translate(308.40,387.70) scale(0.8,1)" font-size="9.8" text-anchor="end" font-weight="normal" fill="#1a1a1a" stroke="#1a1a1a" stroke-width="0.1">600000</text>
<line x1="314.00" y1="460.10" x2="434.40" y2="460.10" stroke="#000" stroke-width="1.3" />
<line x1="335.10" y1="460.10" x2="335.10" y2="462.90" stroke="#111" stroke-width="1.0" />
<text x="0" y="0" transform="translate(335.10,473.50) scale(0.8,1)" font-size="9.8" text-anchor="middle" font-weight="normal" fill="#1a1a1a" stroke="#1a1a1a" stroke-width="0.1">3</text>
<line x1="374.30" y1="460.10" x2="374.30" y2="462.90" stroke="#111" stroke-width="1.0" />
<text x="0" y="0" transform="translate(374.30,473.50) scale(0.8,1)" font-size="9.8" text-anchor="middle" font-weight="normal" fill="#1a1a1a" stroke="#1a1a1a" stroke-width="0.1">5</text>
<line x1="413.60" y1="460.10" x2="413.60" y2="462.90" stroke="#111" stroke-width="1.0" />
<text x="0" y="0" transform="translate(413.60,473.50) scale(0.8,1)" font-size="9.8" text-anchor="middle" font-weight="normal" fill="#1a1a1a" stroke="#1a1a1a" stroke-width="0.1">7</text>
<text x="0" y="0" transform="translate(374.30,486.40) scale(0.7,1)" font-size="10.0" text-anchor="middle" font-weight="normal" fill="#1a1a1a" stroke="#1a1a1a" stroke-width="0.1">Day</text>
<text x="0" y="0" font-size="10.2" fill="#1a1a1a" stroke="#1a1a1a" stroke-width="0.1" text-anchor="middle" transform="translate(275.6,419.4) rotate(-90) scale(0.74,1)">p/sec/cm<tspan font-size="6.4" dy="-3.8">2</tspan><tspan dy="3.8">/sr</tspan></text>
<rect x="320.50" y="385.60" width="12.6" height="74.50" fill="#a3002a"/>
<line x1="326.80" y1="381.10" x2="326.80" y2="385.60" stroke="#222" stroke-width="1.1" />
<line x1="323.60" y1="381.10" x2="330.00" y2="381.10" stroke="#222" stroke-width="1.1" />
<rect x="337.20" y="401.80" width="12.6" height="58.30" fill="#2f4d7e"/>
<line x1="343.50" y1="399.20" x2="343.50" y2="401.80" stroke="#222" stroke-width="1.1" />
<line x1="340.30" y1="399.20" x2="346.70" y2="399.20" stroke="#222" stroke-width="1.1" />
<rect x="359.80" y="396.20" width="12.6" height="63.90" fill="#a3002a"/>
<line x1="366.10" y1="391.60" x2="366.10" y2="396.20" stroke="#222" stroke-width="1.1" />
<line x1="362.90" y1="391.60" x2="369.30" y2="391.60" stroke="#222" stroke-width="1.1" />
<rect x="376.10" y="411.30" width="12.6" height="48.80" fill="#2f4d7e"/>
<line x1="382.40" y1="407.30" x2="382.40" y2="411.30" stroke="#222" stroke-width="1.1" />
<line x1="379.20" y1="407.30" x2="385.60" y2="407.30" stroke="#222" stroke-width="1.1" />
<rect x="399.20" y="388.20" width="12.6" height="71.90" fill="#a3002a"/>
<line x1="405.50" y1="380.60" x2="405.50" y2="388.20" stroke="#222" stroke-width="1.1" />
<line x1="402.30" y1="380.60" x2="408.70" y2="380.60" stroke="#222" stroke-width="1.1" />
<rect x="415.30" y="403.30" width="12.6" height="56.80" fill="#2f4d7e"/>
<line x1="421.60" y1="399.50" x2="421.60" y2="403.30" stroke="#222" stroke-width="1.1" />
<line x1="418.40" y1="399.50" x2="424.80" y2="399.50" stroke="#222" stroke-width="1.1" />
<line x1="430.60" y1="386.15" x2="430.60" y2="388.65" stroke="#222" stroke-width="0.7" />
<line x1="429.52" y1="386.77" x2="431.68" y2="388.02" stroke="#222" stroke-width="0.7" />
<line x1="429.52" y1="388.02" x2="431.68" y2="386.77" stroke="#222" stroke-width="0.7" />
<line x1="433.90" y1="386.15" x2="433.90" y2="388.65" stroke="#222" stroke-width="0.7" />
<line x1="432.82" y1="386.77" x2="434.98" y2="388.02" stroke="#222" stroke-width="0.7" />
<line x1="432.82" y1="388.02" x2="434.98" y2="386.77" stroke="#222" stroke-width="0.7" />
<line x1="437.20" y1="386.15" x2="437.20" y2="388.65" stroke="#222" stroke-width="0.7" />
<line x1="436.12" y1="386.77" x2="438.28" y2="388.02" stroke="#222" stroke-width="0.7" />
<line x1="436.12" y1="388.02" x2="438.28" y2="386.77" stroke="#222" stroke-width="0.7" />
<line x1="440.50" y1="386.15" x2="440.50" y2="388.65" stroke="#222" stroke-width="0.7" />
<line x1="439.42" y1="386.77" x2="441.58" y2="388.02" stroke="#222" stroke-width="0.7" />
<line x1="439.42" y1="388.02" x2="441.58" y2="386.77" stroke="#222" stroke-width="0.7" />
<line x1="443.70" y1="379.50" x2="443.70" y2="396.60" stroke="#222" stroke-width="1.0" />
<line x1="441.70" y1="379.50" x2="445.70" y2="379.50" stroke="#222" stroke-width="1.0" />
<line x1="441.70" y1="396.60" x2="445.70" y2="396.60" stroke="#222" stroke-width="1.0" />
<rect x="448.7" y="377.8" width="9.1" height="4.1" fill="#a3002a"/>
<rect x="448.7" y="394.3" width="9.1" height="4.2" fill="#2f4d7e"/>
<text x="0" y="0" transform="translate(460.90,382.00)" font-size="6.4" text-anchor="start" font-weight="normal" fill="#1a1a1a" stroke="#1a1a1a" stroke-width="0.1">IDOL.tg</text>
<text x="0" y="0" transform="translate(460.90,389.50)" font-size="6.4" text-anchor="start" font-weight="normal" fill="#1a1a1a" stroke="#1a1a1a" stroke-width="0.1">MDSC-IL13</text>
<text x="0" y="0" transform="translate(460.90,398.50)" font-size="6.4" text-anchor="start" font-weight="normal" fill="#1a1a1a" stroke="#1a1a1a" stroke-width="0.1">IDOL.tg</text>
<text x="0" y="0" transform="translate(460.90,405.90)" font-size="6.4" text-anchor="start" font-weight="normal" fill="#1a1a1a" stroke="#1a1a1a" stroke-width="0.1">MDSC-IL13</text>
<text x="0" y="0" transform="translate(460.90,414.20)" font-size="6.4" text-anchor="start" font-weight="normal" fill="#1a1a1a" stroke="#1a1a1a" stroke-width="0.1">+ apyrase</text>
<rect x="0.5" y="0.5" width="519" height="495" fill="none" stroke="#000" stroke-width="1.2"/>
</svg>
</body></html>
